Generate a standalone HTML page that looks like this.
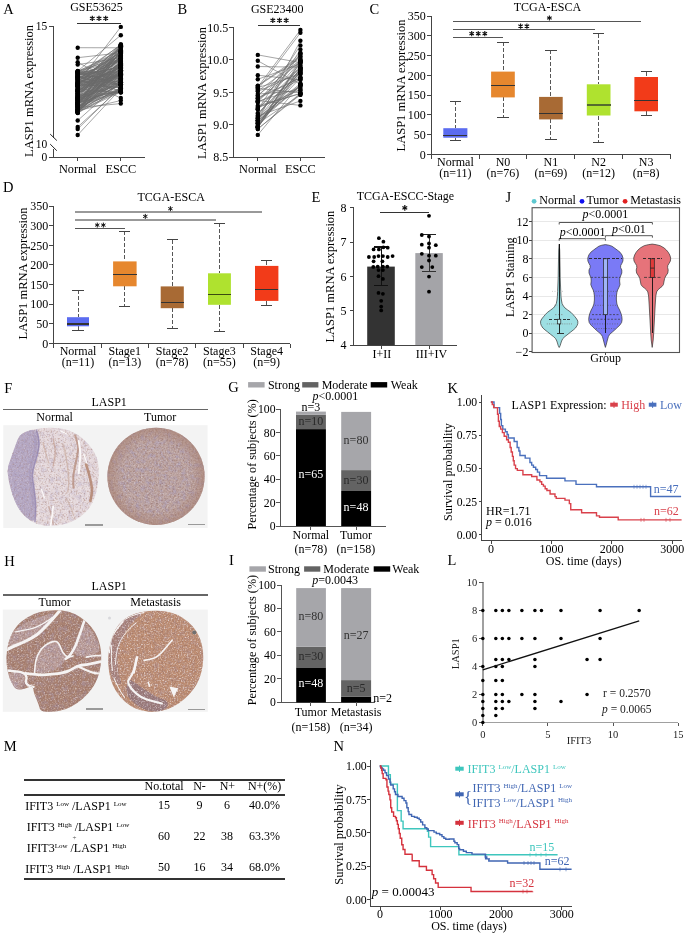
<!DOCTYPE html><html><head><meta charset="utf-8"><style>html,body{margin:0;padding:0;background:#fff;}body{width:685px;height:935px;overflow:hidden;font-family:"Liberation Serif",serif;}svg{display:block;filter:blur(0.4px);}</style></head><body><svg width="685" height="935" viewBox="0 0 685 935" font-family='"Liberation Serif", serif'><defs><filter id="nBrown" x="0" y="0" width="100%" height="100%" color-interpolation-filters="sRGB"><feTurbulence type="fractalNoise" baseFrequency="0.55" numOctaves="2" seed="3"/><feColorMatrix type="matrix" values="0 0 0 0 0.58 0 0 0 0 0.4 0 0 0 0 0.34 2.6 0 0 0 -1.25"/></filter><filter id="nLav" x="0" y="0" width="100%" height="100%" color-interpolation-filters="sRGB"><feTurbulence type="fractalNoise" baseFrequency="0.22" numOctaves="3" seed="8"/><feColorMatrix type="matrix" values="0 0 0 0 0.66 0 0 0 0 0.62 0 0 0 0 0.76 2.4 0 0 0 -1.05"/></filter><filter id="nWhite" x="0" y="0" width="100%" height="100%" color-interpolation-filters="sRGB"><feTurbulence type="fractalNoise" baseFrequency="0.7" numOctaves="2" seed="13"/><feColorMatrix type="matrix" values="0 0 0 0 0.97 0 0 0 0 0.95 0 0 0 0 0.96 2.8 0 0 0 -1.4"/></filter><filter id="nDark" x="0" y="0" width="100%" height="100%" color-interpolation-filters="sRGB"><feTurbulence type="fractalNoise" baseFrequency="0.6" numOctaves="2" seed="21"/><feColorMatrix type="matrix" values="0 0 0 0 0.4 0 0 0 0 0.28 0 0 0 0 0.3 3.0 0 0 0 -1.55"/></filter><filter id="nBig" x="0" y="0" width="100%" height="100%" color-interpolation-filters="sRGB"><feTurbulence type="fractalNoise" baseFrequency="0.05" numOctaves="3" seed="5"/><feColorMatrix type="matrix" values="0 0 0 0 0.7 0 0 0 0 0.64 0 0 0 0 0.72 2.4 0 0 0 -1.1"/></filter><radialGradient id="rimT"><stop offset="0.7" stop-color="#a57c6c" stop-opacity="0"/><stop offset="1" stop-color="#a57c6c" stop-opacity="0.55"/></radialGradient><clipPath id="cFN"><path d="M22.15 433.76Q25.44 431.57 30.91 430.11Q36.39 428.65 42.59 428.14Q48.80 427.63 54.64 427.92Q60.47 428.21 65.58 429.53Q70.69 430.84 75.80 433.76Q80.91 436.68 85.29 441.06Q89.67 445.44 92.59 449.82Q95.51 454.20 96.97 458.58Q98.43 462.96 98.58 468.07Q98.72 473.18 98.21 479.74Q97.70 486.31 96.24 492.15Q94.78 497.99 92.23 503.10Q89.67 508.21 85.29 512.59Q80.91 516.97 75.07 520.04Q69.23 523.10 62.66 524.56Q56.09 526.02 50.26 526.02Q44.42 526.02 39.31 524.56Q34.20 523.10 29.82 520.18Q25.44 517.26 21.79 512.74Q18.14 508.21 15.22 501.64Q12.30 495.07 10.47 487.77Q8.65 480.47 7.92 474.64Q7.19 468.80 9.01 463.69Q10.84 458.58 12.30 454.20Q13.76 449.82 15.22 446.17Q16.68 442.52 17.77 439.23Q18.87 435.95 22.15 433.76Z"/></clipPath><clipPath id="cFNlav"><path d="M22.15 433.76Q25.44 431.57 30.91 430.33Q36.39 429.09 38.21 434.34Q40.04 439.60 39.16 446.90Q38.28 454.20 34.93 463.69Q31.57 473.18 32.88 479.74Q34.20 486.31 35.29 496.53Q36.39 506.75 35.66 514.64Q34.93 522.52 30.18 519.89Q25.44 517.26 21.79 512.74Q18.14 508.21 15.22 501.64Q12.30 495.07 10.47 487.77Q8.65 480.47 7.92 474.64Q7.19 468.80 9.01 463.69Q10.84 458.58 12.30 454.20Q13.76 449.82 15.22 446.17Q16.68 442.52 17.77 439.23Q18.87 435.95 22.15 433.76Z"/></clipPath><clipPath id="cFT"><circle cx="156.0" cy="476.4" r="48.6"/></clipPath><clipPath id="cHT"><path d="M26.82 617.67Q32.78 613.95 40.22 612.09Q47.67 610.23 55.11 610.23Q62.56 610.23 68.52 611.72Q74.47 613.21 80.43 617.30Q86.38 621.39 90.85 626.60Q95.32 631.81 97.92 638.51Q100.53 645.20 101.05 651.90Q101.57 658.60 100.68 665.29Q99.78 671.99 97.55 677.94Q95.32 683.89 91.59 689.10Q87.87 694.31 82.66 698.77Q77.45 703.24 71.49 706.59Q65.54 709.93 58.84 711.05Q52.14 712.17 46.33 711.72Q40.52 711.27 39.78 708.45Q39.03 705.62 37.69 702.20Q36.35 698.77 35.01 695.50Q33.67 692.23 33.23 688.80Q32.78 685.38 29.21 686.94Q25.63 688.51 21.02 689.40Q16.40 690.29 13.80 686.35Q11.19 682.40 9.33 677.20Q7.47 671.99 6.72 664.55Q5.98 657.11 7.09 649.67Q8.21 642.23 10.82 636.27Q13.42 630.32 17.15 625.86Q20.87 621.39 26.82 617.67Z"/></clipPath><clipPath id="cHM"><path d="M128.82 616.56Q134.78 613.21 142.22 611.94Q149.67 610.68 157.11 610.83Q164.56 610.98 170.52 612.46Q176.47 613.95 182.43 617.67Q188.38 621.39 192.85 626.60Q197.32 631.81 199.92 638.51Q202.53 645.20 203.05 651.90Q203.57 658.60 202.68 665.29Q201.78 671.99 199.55 677.94Q197.32 683.89 193.59 689.10Q189.87 694.31 184.66 698.77Q179.45 703.24 173.49 706.59Q167.54 709.93 160.84 711.05Q154.14 712.17 147.44 711.42Q140.74 710.68 135.52 708.45Q130.31 706.21 125.10 701.75Q119.89 697.29 116.17 691.33Q112.44 685.38 110.58 678.68Q108.72 671.99 108.35 664.55Q107.98 657.11 109.09 649.67Q110.21 642.23 112.82 635.53Q115.42 628.83 119.15 624.37Q122.87 619.90 128.82 616.56Z"/></clipPath></defs><text x="3.30" y="14.00" font-size="14.5" text-anchor="start" fill="#000">A</text>
<text x="96.50" y="10.60" font-size="12" text-anchor="middle" fill="#000">GSE53625</text>
<line x1="53.40" y1="26.30" x2="53.40" y2="137.50" stroke="#444" stroke-width="1" stroke-linecap="butt" shape-rendering="crispEdges"/>
<line x1="53.40" y1="149.00" x2="53.40" y2="157.60" stroke="#444" stroke-width="1" stroke-linecap="butt" shape-rendering="crispEdges"/>
<line x1="50.20" y1="134.10" x2="56.80" y2="140.50" stroke="#222" stroke-width="1" stroke-linecap="butt"/>
<line x1="50.20" y1="144.10" x2="56.80" y2="150.70" stroke="#222" stroke-width="1" stroke-linecap="butt"/>
<line x1="48.50" y1="157.10" x2="145.00" y2="157.10" stroke="#444" stroke-width="1" stroke-linecap="butt" shape-rendering="crispEdges"/>
<line x1="49.00" y1="26.30" x2="53.40" y2="26.30" stroke="#444" stroke-width="1" stroke-linecap="butt" shape-rendering="crispEdges"/>
<text x="47.20" y="30.40" font-size="11.5" text-anchor="end" fill="#000">15</text>
<text x="47.20" y="148.40" font-size="11.5" text-anchor="end" fill="#000">10</text>
<text x="47.20" y="161.20" font-size="11.5" text-anchor="end" fill="#000">0</text>
<line x1="77.70" y1="157.10" x2="77.70" y2="161.30" stroke="#444" stroke-width="1" stroke-linecap="butt" shape-rendering="crispEdges"/>
<line x1="120.80" y1="157.10" x2="120.80" y2="161.30" stroke="#444" stroke-width="1" stroke-linecap="butt" shape-rendering="crispEdges"/>
<text x="77.70" y="172.80" font-size="12.3" text-anchor="middle" fill="#000">Normal</text>
<text x="120.80" y="172.80" font-size="12.3" text-anchor="middle" fill="#000">ESCC</text>
<text x="32.80" y="91.00" font-size="12.5" text-anchor="middle" fill="#000" transform="rotate(-90 32.8 91)">LASP1 mRNA expression</text>
<line x1="77.30" y1="23.10" x2="121.00" y2="23.10" stroke="#333" stroke-width="1.1" stroke-linecap="butt" shape-rendering="crispEdges"/>
<path d="M92.30 15.70L92.30 21.10M89.96 17.05L94.64 19.75M89.96 19.75L94.64 17.05M99.00 15.70L99.00 21.10M96.66 17.05L101.34 19.75M96.66 19.75L101.34 17.05M105.70 15.70L105.70 21.10M103.36 17.05L108.04 19.75M103.36 19.75L108.04 17.05" stroke="#111" stroke-width="1.25" fill="none"/>
<path d="M77.7 75.5L120.8 58.9M77.7 47.7L120.8 47.8M77.7 83.3L120.8 26.9M77.7 77.3L120.8 66.0M77.7 83.7L120.8 55.1M77.7 84.3L120.8 45.7M77.7 95.3L120.8 92.0M77.7 73.0L120.8 76.0M77.7 103.3L120.8 51.3M77.7 71.1L120.8 35.2M77.7 77.3L120.8 84.8M77.7 81.5L120.8 58.6M77.7 77.2L120.8 44.5M77.7 91.2L120.8 62.9M77.7 91.1L120.8 56.4M77.7 90.7L120.8 58.4M77.7 100.0L120.8 64.9M77.7 108.8L120.8 63.2M77.7 86.3L120.8 69.6M77.7 85.5L120.8 67.6M77.7 97.3L120.8 74.0M77.7 74.8L120.8 45.1M77.7 81.4L120.8 52.0M77.7 57.7L120.8 52.8M77.7 72.0L120.8 55.7M77.7 79.3L120.8 51.9M77.7 82.7L120.8 65.2M77.7 93.8L120.8 58.4M77.7 85.2L120.8 67.1M77.7 97.2L120.8 56.7M77.7 106.5L120.8 89.9M77.7 72.2L120.8 73.1M77.7 79.6L120.8 52.6M77.7 88.0L120.8 50.1M77.7 86.4L120.8 67.0M77.7 93.0L120.8 62.9M77.7 82.8L120.8 64.4M77.7 75.8L120.8 49.1M77.7 71.4L120.8 71.9M77.7 85.6L120.8 54.0M77.7 73.7L120.8 84.8M77.7 80.1L120.8 60.0M77.7 77.8L120.8 85.4M77.7 83.4L120.8 68.4M77.7 94.0L120.8 58.7M77.7 84.0L120.8 60.5M77.7 102.7L120.8 51.4M77.7 88.7L120.8 74.0M77.7 90.6L120.8 46.2M77.7 109.5L120.8 51.0M77.7 96.7L120.8 70.2M77.7 72.5L120.8 58.7M77.7 85.2L120.8 47.7M77.7 86.2L120.8 78.0M77.7 74.7L120.8 67.6M77.7 98.2L120.8 74.3M77.7 75.5L120.8 67.5M77.7 77.7L120.8 55.5M77.7 73.4L120.8 82.4M77.7 73.3L120.8 79.4M77.7 71.8L120.8 85.1M77.7 104.5L120.8 50.4M77.7 74.3L120.8 61.0M77.7 90.1L120.8 53.9M77.7 78.5L120.8 57.8M77.7 91.2L120.8 65.4M77.7 100.2L120.8 56.0M77.7 79.8L120.8 90.9M77.7 71.1L120.8 53.3M77.7 71.6L120.8 50.2M77.7 83.5L120.8 46.5M77.7 77.1L120.8 75.7M77.7 82.4L120.8 70.9M77.7 109.7L120.8 80.6M77.7 91.5L120.8 59.1M77.7 96.9L120.8 49.7M77.7 111.6L120.8 65.5M77.7 105.7L120.8 84.6M77.7 88.0L120.8 67.7M77.7 103.8L120.8 64.2M77.7 62.2L120.8 85.8M77.7 80.1L120.8 88.3M77.7 103.6L120.8 82.4M77.7 85.3L120.8 44.5M77.7 78.0L120.8 73.4M77.7 76.8L120.8 76.7M77.7 102.2L120.8 65.9M77.7 110.7L120.8 100.5M77.7 71.5L120.8 57.1M77.7 81.0L120.8 58.9M77.7 105.4L120.8 67.9M77.7 99.5L120.8 61.5M77.7 83.2L120.8 61.5M77.7 112.3L120.8 46.3M77.7 101.6L120.8 75.1M77.7 102.5L120.8 62.7M77.7 103.2L120.8 88.7M77.7 102.1L120.8 90.0M77.7 99.2L120.8 45.2M77.7 109.5L120.8 88.8M77.7 99.9L120.8 91.7M77.7 112.9L120.8 82.3M77.7 86.8L120.8 75.8M77.7 90.4L120.8 70.2M77.7 104.0L120.8 59.9M77.7 96.3L120.8 84.2M77.7 64.6L120.8 58.0M77.7 78.6L120.8 98.0M77.7 110.7L120.8 87.7M77.7 90.0L120.8 74.3M77.7 102.0L120.8 74.7M77.7 91.4L120.8 91.0M77.7 104.5L120.8 70.4M77.7 105.3L120.8 45.8M77.7 110.6L120.8 55.5M77.7 113.0L120.8 89.0M77.7 112.0L120.8 74.8M77.7 106.8L120.8 67.4M77.7 93.6L120.8 66.6M77.7 104.5L120.8 78.8M77.7 73.0L120.8 64.8M77.7 111.3L120.8 75.4M77.7 112.5L120.8 68.6M77.7 104.1L120.8 62.0M77.7 102.9L120.8 92.2M77.7 110.5L120.8 62.6M77.7 90.0L120.8 77.9M77.7 104.1L120.8 72.9M77.7 107.4L120.8 71.0M77.7 107.1L120.8 80.6M77.7 97.5L120.8 81.4M77.7 100.0L120.8 73.4M77.7 83.2L120.8 76.8M77.7 103.5L120.8 47.1M77.7 84.1L120.8 87.8M77.7 95.4L120.8 79.9M77.7 100.6L120.8 71.1M77.7 110.9L120.8 90.9M77.7 98.3L120.8 85.1M77.7 108.5L120.8 84.3M77.7 95.9L120.8 51.4M77.7 86.2L120.8 83.9M77.7 99.5L120.8 82.4M77.7 89.3L120.8 92.5M77.7 91.7L120.8 72.7M77.7 92.0L120.8 79.4M77.7 110.6L120.8 60.8M77.7 110.0L120.8 63.5M77.7 85.3L120.8 57.5M77.7 98.9L120.8 83.9M77.7 111.4L120.8 73.2M77.7 76.3L120.8 91.1M77.7 110.6L120.8 64.7M77.7 109.6L120.8 82.9M77.7 111.1L120.8 78.2M77.7 112.4L120.8 70.3M77.7 95.1L120.8 62.4M77.7 85.9L120.8 75.2M77.7 84.3L120.8 74.2M77.7 76.5L120.8 82.3M77.7 93.9L120.8 46.2M77.7 104.4L120.8 68.6M77.7 107.6L120.8 103.6M77.7 109.8L120.8 72.4M77.7 100.6L120.8 52.3M77.7 127.0L120.8 87.6M77.7 72.4L120.8 75.0M77.7 135.0L120.8 88.7M77.7 106.2L120.8 84.7M77.7 98.1L120.8 71.8M77.7 101.7L120.8 72.7M77.7 112.0L120.8 92.1M77.7 129.0L120.8 86.7M77.7 102.4L120.8 77.8M77.7 120.5L120.8 82.1M77.7 93.4L120.8 73.8M77.7 107.6L120.8 79.5M77.7 98.3L120.8 91.4M77.7 106.5L120.8 91.8" stroke="#6a6a6a" stroke-width="0.6" fill="none"/>
<circle cx="77.70" cy="75.54" r="2.2" fill="#000"/>
<circle cx="120.80" cy="58.90" r="2.2" fill="#000"/>
<circle cx="77.70" cy="47.70" r="2.2" fill="#000"/>
<circle cx="120.80" cy="47.82" r="2.2" fill="#000"/>
<circle cx="77.70" cy="83.34" r="2.2" fill="#000"/>
<circle cx="120.80" cy="26.90" r="2.2" fill="#000"/>
<circle cx="77.70" cy="77.27" r="2.2" fill="#000"/>
<circle cx="120.80" cy="66.01" r="2.2" fill="#000"/>
<circle cx="77.70" cy="83.66" r="2.2" fill="#000"/>
<circle cx="120.80" cy="55.12" r="2.2" fill="#000"/>
<circle cx="77.70" cy="84.26" r="2.2" fill="#000"/>
<circle cx="120.80" cy="45.74" r="2.2" fill="#000"/>
<circle cx="77.70" cy="95.30" r="2.2" fill="#000"/>
<circle cx="120.80" cy="91.97" r="2.2" fill="#000"/>
<circle cx="77.70" cy="73.04" r="2.2" fill="#000"/>
<circle cx="120.80" cy="76.03" r="2.2" fill="#000"/>
<circle cx="77.70" cy="103.33" r="2.2" fill="#000"/>
<circle cx="120.80" cy="51.32" r="2.2" fill="#000"/>
<circle cx="77.70" cy="71.14" r="2.2" fill="#000"/>
<circle cx="120.80" cy="35.20" r="2.2" fill="#000"/>
<circle cx="77.70" cy="77.25" r="2.2" fill="#000"/>
<circle cx="120.80" cy="84.82" r="2.2" fill="#000"/>
<circle cx="77.70" cy="81.53" r="2.2" fill="#000"/>
<circle cx="120.80" cy="58.64" r="2.2" fill="#000"/>
<circle cx="77.70" cy="77.15" r="2.2" fill="#000"/>
<circle cx="120.80" cy="44.55" r="2.2" fill="#000"/>
<circle cx="77.70" cy="91.21" r="2.2" fill="#000"/>
<circle cx="120.80" cy="62.94" r="2.2" fill="#000"/>
<circle cx="77.70" cy="91.12" r="2.2" fill="#000"/>
<circle cx="120.80" cy="56.41" r="2.2" fill="#000"/>
<circle cx="77.70" cy="90.70" r="2.2" fill="#000"/>
<circle cx="120.80" cy="58.39" r="2.2" fill="#000"/>
<circle cx="77.70" cy="100.01" r="2.2" fill="#000"/>
<circle cx="120.80" cy="64.91" r="2.2" fill="#000"/>
<circle cx="77.70" cy="108.84" r="2.2" fill="#000"/>
<circle cx="120.80" cy="63.20" r="2.2" fill="#000"/>
<circle cx="77.70" cy="86.26" r="2.2" fill="#000"/>
<circle cx="120.80" cy="69.63" r="2.2" fill="#000"/>
<circle cx="77.70" cy="85.46" r="2.2" fill="#000"/>
<circle cx="120.80" cy="67.63" r="2.2" fill="#000"/>
<circle cx="77.70" cy="97.33" r="2.2" fill="#000"/>
<circle cx="120.80" cy="74.02" r="2.2" fill="#000"/>
<circle cx="77.70" cy="74.83" r="2.2" fill="#000"/>
<circle cx="120.80" cy="45.14" r="2.2" fill="#000"/>
<circle cx="77.70" cy="81.36" r="2.2" fill="#000"/>
<circle cx="120.80" cy="52.01" r="2.2" fill="#000"/>
<circle cx="77.70" cy="57.70" r="2.2" fill="#000"/>
<circle cx="120.80" cy="52.83" r="2.2" fill="#000"/>
<circle cx="77.70" cy="71.96" r="2.2" fill="#000"/>
<circle cx="120.80" cy="55.66" r="2.2" fill="#000"/>
<circle cx="77.70" cy="79.25" r="2.2" fill="#000"/>
<circle cx="120.80" cy="51.95" r="2.2" fill="#000"/>
<circle cx="77.70" cy="82.74" r="2.2" fill="#000"/>
<circle cx="120.80" cy="65.24" r="2.2" fill="#000"/>
<circle cx="77.70" cy="93.84" r="2.2" fill="#000"/>
<circle cx="120.80" cy="58.39" r="2.2" fill="#000"/>
<circle cx="77.70" cy="85.22" r="2.2" fill="#000"/>
<circle cx="120.80" cy="67.07" r="2.2" fill="#000"/>
<circle cx="77.70" cy="97.16" r="2.2" fill="#000"/>
<circle cx="120.80" cy="56.74" r="2.2" fill="#000"/>
<circle cx="77.70" cy="106.48" r="2.2" fill="#000"/>
<circle cx="120.80" cy="89.86" r="2.2" fill="#000"/>
<circle cx="77.70" cy="72.22" r="2.2" fill="#000"/>
<circle cx="120.80" cy="73.12" r="2.2" fill="#000"/>
<circle cx="77.70" cy="79.60" r="2.2" fill="#000"/>
<circle cx="120.80" cy="52.56" r="2.2" fill="#000"/>
<circle cx="77.70" cy="88.05" r="2.2" fill="#000"/>
<circle cx="120.80" cy="50.08" r="2.2" fill="#000"/>
<circle cx="77.70" cy="86.38" r="2.2" fill="#000"/>
<circle cx="120.80" cy="67.02" r="2.2" fill="#000"/>
<circle cx="77.70" cy="93.04" r="2.2" fill="#000"/>
<circle cx="120.80" cy="62.92" r="2.2" fill="#000"/>
<circle cx="77.70" cy="82.80" r="2.2" fill="#000"/>
<circle cx="120.80" cy="64.39" r="2.2" fill="#000"/>
<circle cx="77.70" cy="75.75" r="2.2" fill="#000"/>
<circle cx="120.80" cy="49.10" r="2.2" fill="#000"/>
<circle cx="77.70" cy="71.38" r="2.2" fill="#000"/>
<circle cx="120.80" cy="71.94" r="2.2" fill="#000"/>
<circle cx="77.70" cy="85.61" r="2.2" fill="#000"/>
<circle cx="120.80" cy="54.03" r="2.2" fill="#000"/>
<circle cx="77.70" cy="73.74" r="2.2" fill="#000"/>
<circle cx="120.80" cy="84.76" r="2.2" fill="#000"/>
<circle cx="77.70" cy="80.05" r="2.2" fill="#000"/>
<circle cx="120.80" cy="59.98" r="2.2" fill="#000"/>
<circle cx="77.70" cy="77.78" r="2.2" fill="#000"/>
<circle cx="120.80" cy="85.38" r="2.2" fill="#000"/>
<circle cx="77.70" cy="83.38" r="2.2" fill="#000"/>
<circle cx="120.80" cy="68.35" r="2.2" fill="#000"/>
<circle cx="77.70" cy="93.97" r="2.2" fill="#000"/>
<circle cx="120.80" cy="58.72" r="2.2" fill="#000"/>
<circle cx="77.70" cy="84.02" r="2.2" fill="#000"/>
<circle cx="120.80" cy="60.54" r="2.2" fill="#000"/>
<circle cx="77.70" cy="102.74" r="2.2" fill="#000"/>
<circle cx="120.80" cy="51.42" r="2.2" fill="#000"/>
<circle cx="77.70" cy="88.71" r="2.2" fill="#000"/>
<circle cx="120.80" cy="73.99" r="2.2" fill="#000"/>
<circle cx="77.70" cy="90.56" r="2.2" fill="#000"/>
<circle cx="120.80" cy="46.25" r="2.2" fill="#000"/>
<circle cx="77.70" cy="109.49" r="2.2" fill="#000"/>
<circle cx="120.80" cy="50.98" r="2.2" fill="#000"/>
<circle cx="77.70" cy="96.65" r="2.2" fill="#000"/>
<circle cx="120.80" cy="70.20" r="2.2" fill="#000"/>
<circle cx="77.70" cy="72.54" r="2.2" fill="#000"/>
<circle cx="120.80" cy="58.72" r="2.2" fill="#000"/>
<circle cx="77.70" cy="85.19" r="2.2" fill="#000"/>
<circle cx="120.80" cy="47.70" r="2.2" fill="#000"/>
<circle cx="77.70" cy="86.18" r="2.2" fill="#000"/>
<circle cx="120.80" cy="78.03" r="2.2" fill="#000"/>
<circle cx="77.70" cy="74.74" r="2.2" fill="#000"/>
<circle cx="120.80" cy="67.65" r="2.2" fill="#000"/>
<circle cx="77.70" cy="98.19" r="2.2" fill="#000"/>
<circle cx="120.80" cy="74.34" r="2.2" fill="#000"/>
<circle cx="77.70" cy="75.48" r="2.2" fill="#000"/>
<circle cx="120.80" cy="67.52" r="2.2" fill="#000"/>
<circle cx="77.70" cy="77.70" r="2.2" fill="#000"/>
<circle cx="120.80" cy="55.47" r="2.2" fill="#000"/>
<circle cx="77.70" cy="73.39" r="2.2" fill="#000"/>
<circle cx="120.80" cy="82.37" r="2.2" fill="#000"/>
<circle cx="77.70" cy="73.34" r="2.2" fill="#000"/>
<circle cx="120.80" cy="79.44" r="2.2" fill="#000"/>
<circle cx="77.70" cy="71.76" r="2.2" fill="#000"/>
<circle cx="120.80" cy="85.08" r="2.2" fill="#000"/>
<circle cx="77.70" cy="104.50" r="2.2" fill="#000"/>
<circle cx="120.80" cy="50.41" r="2.2" fill="#000"/>
<circle cx="77.70" cy="74.28" r="2.2" fill="#000"/>
<circle cx="120.80" cy="60.96" r="2.2" fill="#000"/>
<circle cx="77.70" cy="90.14" r="2.2" fill="#000"/>
<circle cx="120.80" cy="53.88" r="2.2" fill="#000"/>
<circle cx="77.70" cy="78.45" r="2.2" fill="#000"/>
<circle cx="120.80" cy="57.78" r="2.2" fill="#000"/>
<circle cx="77.70" cy="91.19" r="2.2" fill="#000"/>
<circle cx="120.80" cy="65.44" r="2.2" fill="#000"/>
<circle cx="77.70" cy="100.17" r="2.2" fill="#000"/>
<circle cx="120.80" cy="56.04" r="2.2" fill="#000"/>
<circle cx="77.70" cy="79.80" r="2.2" fill="#000"/>
<circle cx="120.80" cy="90.92" r="2.2" fill="#000"/>
<circle cx="77.70" cy="71.07" r="2.2" fill="#000"/>
<circle cx="120.80" cy="53.31" r="2.2" fill="#000"/>
<circle cx="77.70" cy="71.55" r="2.2" fill="#000"/>
<circle cx="120.80" cy="50.23" r="2.2" fill="#000"/>
<circle cx="77.70" cy="83.55" r="2.2" fill="#000"/>
<circle cx="120.80" cy="46.53" r="2.2" fill="#000"/>
<circle cx="77.70" cy="77.12" r="2.2" fill="#000"/>
<circle cx="120.80" cy="75.65" r="2.2" fill="#000"/>
<circle cx="77.70" cy="82.44" r="2.2" fill="#000"/>
<circle cx="120.80" cy="70.94" r="2.2" fill="#000"/>
<circle cx="77.70" cy="109.74" r="2.2" fill="#000"/>
<circle cx="120.80" cy="80.63" r="2.2" fill="#000"/>
<circle cx="77.70" cy="91.50" r="2.2" fill="#000"/>
<circle cx="120.80" cy="59.08" r="2.2" fill="#000"/>
<circle cx="77.70" cy="96.93" r="2.2" fill="#000"/>
<circle cx="120.80" cy="49.73" r="2.2" fill="#000"/>
<circle cx="77.70" cy="111.60" r="2.2" fill="#000"/>
<circle cx="120.80" cy="65.49" r="2.2" fill="#000"/>
<circle cx="77.70" cy="105.70" r="2.2" fill="#000"/>
<circle cx="120.80" cy="84.60" r="2.2" fill="#000"/>
<circle cx="77.70" cy="87.96" r="2.2" fill="#000"/>
<circle cx="120.80" cy="67.70" r="2.2" fill="#000"/>
<circle cx="77.70" cy="103.84" r="2.2" fill="#000"/>
<circle cx="120.80" cy="64.16" r="2.2" fill="#000"/>
<circle cx="77.70" cy="62.20" r="2.2" fill="#000"/>
<circle cx="120.80" cy="85.82" r="2.2" fill="#000"/>
<circle cx="77.70" cy="80.10" r="2.2" fill="#000"/>
<circle cx="120.80" cy="88.30" r="2.2" fill="#000"/>
<circle cx="77.70" cy="103.58" r="2.2" fill="#000"/>
<circle cx="120.80" cy="82.41" r="2.2" fill="#000"/>
<circle cx="77.70" cy="85.31" r="2.2" fill="#000"/>
<circle cx="120.80" cy="44.53" r="2.2" fill="#000"/>
<circle cx="77.70" cy="77.97" r="2.2" fill="#000"/>
<circle cx="120.80" cy="73.40" r="2.2" fill="#000"/>
<circle cx="77.70" cy="76.83" r="2.2" fill="#000"/>
<circle cx="120.80" cy="76.68" r="2.2" fill="#000"/>
<circle cx="77.70" cy="102.16" r="2.2" fill="#000"/>
<circle cx="120.80" cy="65.89" r="2.2" fill="#000"/>
<circle cx="77.70" cy="110.72" r="2.2" fill="#000"/>
<circle cx="120.80" cy="100.50" r="2.2" fill="#000"/>
<circle cx="77.70" cy="71.49" r="2.2" fill="#000"/>
<circle cx="120.80" cy="57.10" r="2.2" fill="#000"/>
<circle cx="77.70" cy="80.97" r="2.2" fill="#000"/>
<circle cx="120.80" cy="58.88" r="2.2" fill="#000"/>
<circle cx="77.70" cy="105.38" r="2.2" fill="#000"/>
<circle cx="120.80" cy="67.87" r="2.2" fill="#000"/>
<circle cx="77.70" cy="99.47" r="2.2" fill="#000"/>
<circle cx="120.80" cy="61.53" r="2.2" fill="#000"/>
<circle cx="77.70" cy="83.22" r="2.2" fill="#000"/>
<circle cx="120.80" cy="61.48" r="2.2" fill="#000"/>
<circle cx="77.70" cy="112.26" r="2.2" fill="#000"/>
<circle cx="120.80" cy="46.27" r="2.2" fill="#000"/>
<circle cx="77.70" cy="101.64" r="2.2" fill="#000"/>
<circle cx="120.80" cy="75.10" r="2.2" fill="#000"/>
<circle cx="77.70" cy="102.49" r="2.2" fill="#000"/>
<circle cx="120.80" cy="62.73" r="2.2" fill="#000"/>
<circle cx="77.70" cy="103.16" r="2.2" fill="#000"/>
<circle cx="120.80" cy="88.67" r="2.2" fill="#000"/>
<circle cx="77.70" cy="102.08" r="2.2" fill="#000"/>
<circle cx="120.80" cy="89.96" r="2.2" fill="#000"/>
<circle cx="77.70" cy="99.21" r="2.2" fill="#000"/>
<circle cx="120.80" cy="45.21" r="2.2" fill="#000"/>
<circle cx="77.70" cy="109.47" r="2.2" fill="#000"/>
<circle cx="120.80" cy="88.82" r="2.2" fill="#000"/>
<circle cx="77.70" cy="99.95" r="2.2" fill="#000"/>
<circle cx="120.80" cy="91.66" r="2.2" fill="#000"/>
<circle cx="77.70" cy="112.86" r="2.2" fill="#000"/>
<circle cx="120.80" cy="82.35" r="2.2" fill="#000"/>
<circle cx="77.70" cy="86.83" r="2.2" fill="#000"/>
<circle cx="120.80" cy="75.78" r="2.2" fill="#000"/>
<circle cx="77.70" cy="90.44" r="2.2" fill="#000"/>
<circle cx="120.80" cy="70.17" r="2.2" fill="#000"/>
<circle cx="77.70" cy="104.01" r="2.2" fill="#000"/>
<circle cx="120.80" cy="59.89" r="2.2" fill="#000"/>
<circle cx="77.70" cy="96.33" r="2.2" fill="#000"/>
<circle cx="120.80" cy="84.20" r="2.2" fill="#000"/>
<circle cx="77.70" cy="64.60" r="2.2" fill="#000"/>
<circle cx="120.80" cy="58.01" r="2.2" fill="#000"/>
<circle cx="77.70" cy="78.60" r="2.2" fill="#000"/>
<circle cx="120.80" cy="98.00" r="2.2" fill="#000"/>
<circle cx="77.70" cy="110.71" r="2.2" fill="#000"/>
<circle cx="120.80" cy="87.73" r="2.2" fill="#000"/>
<circle cx="77.70" cy="90.03" r="2.2" fill="#000"/>
<circle cx="120.80" cy="74.26" r="2.2" fill="#000"/>
<circle cx="77.70" cy="101.99" r="2.2" fill="#000"/>
<circle cx="120.80" cy="74.65" r="2.2" fill="#000"/>
<circle cx="77.70" cy="91.40" r="2.2" fill="#000"/>
<circle cx="120.80" cy="90.98" r="2.2" fill="#000"/>
<circle cx="77.70" cy="104.48" r="2.2" fill="#000"/>
<circle cx="120.80" cy="70.37" r="2.2" fill="#000"/>
<circle cx="77.70" cy="105.30" r="2.2" fill="#000"/>
<circle cx="120.80" cy="45.84" r="2.2" fill="#000"/>
<circle cx="77.70" cy="110.57" r="2.2" fill="#000"/>
<circle cx="120.80" cy="55.48" r="2.2" fill="#000"/>
<circle cx="77.70" cy="112.97" r="2.2" fill="#000"/>
<circle cx="120.80" cy="88.95" r="2.2" fill="#000"/>
<circle cx="77.70" cy="111.95" r="2.2" fill="#000"/>
<circle cx="120.80" cy="74.75" r="2.2" fill="#000"/>
<circle cx="77.70" cy="106.79" r="2.2" fill="#000"/>
<circle cx="120.80" cy="67.37" r="2.2" fill="#000"/>
<circle cx="77.70" cy="93.65" r="2.2" fill="#000"/>
<circle cx="120.80" cy="66.60" r="2.2" fill="#000"/>
<circle cx="77.70" cy="104.48" r="2.2" fill="#000"/>
<circle cx="120.80" cy="78.85" r="2.2" fill="#000"/>
<circle cx="77.70" cy="72.96" r="2.2" fill="#000"/>
<circle cx="120.80" cy="64.83" r="2.2" fill="#000"/>
<circle cx="77.70" cy="111.31" r="2.2" fill="#000"/>
<circle cx="120.80" cy="75.39" r="2.2" fill="#000"/>
<circle cx="77.70" cy="112.51" r="2.2" fill="#000"/>
<circle cx="120.80" cy="68.57" r="2.2" fill="#000"/>
<circle cx="77.70" cy="104.09" r="2.2" fill="#000"/>
<circle cx="120.80" cy="62.01" r="2.2" fill="#000"/>
<circle cx="77.70" cy="102.90" r="2.2" fill="#000"/>
<circle cx="120.80" cy="92.24" r="2.2" fill="#000"/>
<circle cx="77.70" cy="110.52" r="2.2" fill="#000"/>
<circle cx="120.80" cy="62.63" r="2.2" fill="#000"/>
<circle cx="77.70" cy="90.05" r="2.2" fill="#000"/>
<circle cx="120.80" cy="77.88" r="2.2" fill="#000"/>
<circle cx="77.70" cy="104.10" r="2.2" fill="#000"/>
<circle cx="120.80" cy="72.91" r="2.2" fill="#000"/>
<circle cx="77.70" cy="107.43" r="2.2" fill="#000"/>
<circle cx="120.80" cy="70.96" r="2.2" fill="#000"/>
<circle cx="77.70" cy="107.11" r="2.2" fill="#000"/>
<circle cx="120.80" cy="80.56" r="2.2" fill="#000"/>
<circle cx="77.70" cy="97.48" r="2.2" fill="#000"/>
<circle cx="120.80" cy="81.38" r="2.2" fill="#000"/>
<circle cx="77.70" cy="100.02" r="2.2" fill="#000"/>
<circle cx="120.80" cy="73.40" r="2.2" fill="#000"/>
<circle cx="77.70" cy="83.15" r="2.2" fill="#000"/>
<circle cx="120.80" cy="76.78" r="2.2" fill="#000"/>
<circle cx="77.70" cy="103.55" r="2.2" fill="#000"/>
<circle cx="120.80" cy="47.13" r="2.2" fill="#000"/>
<circle cx="77.70" cy="84.12" r="2.2" fill="#000"/>
<circle cx="120.80" cy="87.83" r="2.2" fill="#000"/>
<circle cx="77.70" cy="95.39" r="2.2" fill="#000"/>
<circle cx="120.80" cy="79.92" r="2.2" fill="#000"/>
<circle cx="77.70" cy="100.59" r="2.2" fill="#000"/>
<circle cx="120.80" cy="71.13" r="2.2" fill="#000"/>
<circle cx="77.70" cy="110.89" r="2.2" fill="#000"/>
<circle cx="120.80" cy="90.89" r="2.2" fill="#000"/>
<circle cx="77.70" cy="98.26" r="2.2" fill="#000"/>
<circle cx="120.80" cy="85.06" r="2.2" fill="#000"/>
<circle cx="77.70" cy="108.54" r="2.2" fill="#000"/>
<circle cx="120.80" cy="84.25" r="2.2" fill="#000"/>
<circle cx="77.70" cy="95.95" r="2.2" fill="#000"/>
<circle cx="120.80" cy="51.39" r="2.2" fill="#000"/>
<circle cx="77.70" cy="86.17" r="2.2" fill="#000"/>
<circle cx="120.80" cy="83.93" r="2.2" fill="#000"/>
<circle cx="77.70" cy="99.47" r="2.2" fill="#000"/>
<circle cx="120.80" cy="82.42" r="2.2" fill="#000"/>
<circle cx="77.70" cy="89.25" r="2.2" fill="#000"/>
<circle cx="120.80" cy="92.46" r="2.2" fill="#000"/>
<circle cx="77.70" cy="91.73" r="2.2" fill="#000"/>
<circle cx="120.80" cy="72.67" r="2.2" fill="#000"/>
<circle cx="77.70" cy="91.97" r="2.2" fill="#000"/>
<circle cx="120.80" cy="79.40" r="2.2" fill="#000"/>
<circle cx="77.70" cy="110.62" r="2.2" fill="#000"/>
<circle cx="120.80" cy="60.80" r="2.2" fill="#000"/>
<circle cx="77.70" cy="110.05" r="2.2" fill="#000"/>
<circle cx="120.80" cy="63.51" r="2.2" fill="#000"/>
<circle cx="77.70" cy="85.28" r="2.2" fill="#000"/>
<circle cx="120.80" cy="57.48" r="2.2" fill="#000"/>
<circle cx="77.70" cy="98.89" r="2.2" fill="#000"/>
<circle cx="120.80" cy="83.87" r="2.2" fill="#000"/>
<circle cx="77.70" cy="111.38" r="2.2" fill="#000"/>
<circle cx="120.80" cy="73.15" r="2.2" fill="#000"/>
<circle cx="77.70" cy="76.32" r="2.2" fill="#000"/>
<circle cx="120.80" cy="91.12" r="2.2" fill="#000"/>
<circle cx="77.70" cy="110.58" r="2.2" fill="#000"/>
<circle cx="120.80" cy="64.65" r="2.2" fill="#000"/>
<circle cx="77.70" cy="109.56" r="2.2" fill="#000"/>
<circle cx="120.80" cy="82.90" r="2.2" fill="#000"/>
<circle cx="77.70" cy="111.12" r="2.2" fill="#000"/>
<circle cx="120.80" cy="78.19" r="2.2" fill="#000"/>
<circle cx="77.70" cy="112.44" r="2.2" fill="#000"/>
<circle cx="120.80" cy="70.33" r="2.2" fill="#000"/>
<circle cx="77.70" cy="95.11" r="2.2" fill="#000"/>
<circle cx="120.80" cy="62.42" r="2.2" fill="#000"/>
<circle cx="77.70" cy="85.90" r="2.2" fill="#000"/>
<circle cx="120.80" cy="75.16" r="2.2" fill="#000"/>
<circle cx="77.70" cy="84.31" r="2.2" fill="#000"/>
<circle cx="120.80" cy="74.17" r="2.2" fill="#000"/>
<circle cx="77.70" cy="76.48" r="2.2" fill="#000"/>
<circle cx="120.80" cy="82.25" r="2.2" fill="#000"/>
<circle cx="77.70" cy="93.90" r="2.2" fill="#000"/>
<circle cx="120.80" cy="46.23" r="2.2" fill="#000"/>
<circle cx="77.70" cy="104.40" r="2.2" fill="#000"/>
<circle cx="120.80" cy="68.64" r="2.2" fill="#000"/>
<circle cx="77.70" cy="107.64" r="2.2" fill="#000"/>
<circle cx="120.80" cy="103.60" r="2.2" fill="#000"/>
<circle cx="77.70" cy="109.82" r="2.2" fill="#000"/>
<circle cx="120.80" cy="72.42" r="2.2" fill="#000"/>
<circle cx="77.70" cy="100.60" r="2.2" fill="#000"/>
<circle cx="120.80" cy="52.26" r="2.2" fill="#000"/>
<circle cx="77.70" cy="127.00" r="2.2" fill="#000"/>
<circle cx="120.80" cy="87.57" r="2.2" fill="#000"/>
<circle cx="77.70" cy="72.37" r="2.2" fill="#000"/>
<circle cx="120.80" cy="75.03" r="2.2" fill="#000"/>
<circle cx="77.70" cy="135.00" r="2.2" fill="#000"/>
<circle cx="120.80" cy="88.72" r="2.2" fill="#000"/>
<circle cx="77.70" cy="106.21" r="2.2" fill="#000"/>
<circle cx="120.80" cy="84.67" r="2.2" fill="#000"/>
<circle cx="77.70" cy="98.05" r="2.2" fill="#000"/>
<circle cx="120.80" cy="71.85" r="2.2" fill="#000"/>
<circle cx="77.70" cy="101.73" r="2.2" fill="#000"/>
<circle cx="120.80" cy="72.67" r="2.2" fill="#000"/>
<circle cx="77.70" cy="111.99" r="2.2" fill="#000"/>
<circle cx="120.80" cy="92.08" r="2.2" fill="#000"/>
<circle cx="77.70" cy="129.00" r="2.2" fill="#000"/>
<circle cx="120.80" cy="86.69" r="2.2" fill="#000"/>
<circle cx="77.70" cy="102.43" r="2.2" fill="#000"/>
<circle cx="120.80" cy="77.77" r="2.2" fill="#000"/>
<circle cx="77.70" cy="120.50" r="2.2" fill="#000"/>
<circle cx="120.80" cy="82.07" r="2.2" fill="#000"/>
<circle cx="77.70" cy="93.41" r="2.2" fill="#000"/>
<circle cx="120.80" cy="73.79" r="2.2" fill="#000"/>
<circle cx="77.70" cy="107.60" r="2.2" fill="#000"/>
<circle cx="120.80" cy="79.55" r="2.2" fill="#000"/>
<circle cx="77.70" cy="98.29" r="2.2" fill="#000"/>
<circle cx="120.80" cy="91.45" r="2.2" fill="#000"/>
<circle cx="77.70" cy="106.48" r="2.2" fill="#000"/>
<circle cx="120.80" cy="91.84" r="2.2" fill="#000"/>
<text x="177.50" y="13.60" font-size="14.5" text-anchor="start" fill="#000">B</text>
<text x="277.30" y="13.00" font-size="12" text-anchor="middle" fill="#000">GSE23400</text>
<line x1="233.70" y1="27.60" x2="233.70" y2="157.60" stroke="#444" stroke-width="1" stroke-linecap="butt" shape-rendering="crispEdges"/>
<line x1="233.70" y1="157.10" x2="325.00" y2="157.10" stroke="#444" stroke-width="1" stroke-linecap="butt" shape-rendering="crispEdges"/>
<line x1="229.40" y1="27.60" x2="233.70" y2="27.60" stroke="#444" stroke-width="1" stroke-linecap="butt" shape-rendering="crispEdges"/>
<text x="228.20" y="31.80" font-size="12" text-anchor="end" fill="#000">10.5</text>
<line x1="229.40" y1="59.97" x2="233.70" y2="59.97" stroke="#444" stroke-width="1" stroke-linecap="butt" shape-rendering="crispEdges"/>
<text x="228.20" y="64.17" font-size="12" text-anchor="end" fill="#000">10.0</text>
<line x1="229.40" y1="92.35" x2="233.70" y2="92.35" stroke="#444" stroke-width="1" stroke-linecap="butt" shape-rendering="crispEdges"/>
<text x="228.20" y="96.55" font-size="12" text-anchor="end" fill="#000">9.5</text>
<line x1="229.40" y1="124.72" x2="233.70" y2="124.72" stroke="#444" stroke-width="1" stroke-linecap="butt" shape-rendering="crispEdges"/>
<text x="228.20" y="128.92" font-size="12" text-anchor="end" fill="#000">9.0</text>
<line x1="229.40" y1="157.10" x2="233.70" y2="157.10" stroke="#444" stroke-width="1" stroke-linecap="butt" shape-rendering="crispEdges"/>
<text x="228.20" y="161.30" font-size="12" text-anchor="end" fill="#000">8.5</text>
<line x1="257.80" y1="157.10" x2="257.80" y2="161.30" stroke="#444" stroke-width="1" stroke-linecap="butt" shape-rendering="crispEdges"/>
<line x1="300.40" y1="157.10" x2="300.40" y2="161.30" stroke="#444" stroke-width="1" stroke-linecap="butt" shape-rendering="crispEdges"/>
<text x="257.80" y="172.80" font-size="12.3" text-anchor="middle" fill="#000">Normal</text>
<text x="300.40" y="172.80" font-size="12.3" text-anchor="middle" fill="#000">ESCC</text>
<text x="205.80" y="93.00" font-size="12.5" text-anchor="middle" fill="#000" transform="rotate(-90 205.8 93)">LASP1 mRNA expression</text>
<line x1="258.00" y1="25.20" x2="300.40" y2="25.20" stroke="#333" stroke-width="1.1" stroke-linecap="butt" shape-rendering="crispEdges"/>
<path d="M272.80 17.70L272.80 23.10M270.46 19.05L275.14 21.75M270.46 21.75L275.14 19.05M279.50 17.70L279.50 23.10M277.16 19.05L281.84 21.75M277.16 21.75L281.84 19.05M286.20 17.70L286.20 23.10M283.86 19.05L288.54 21.75M283.86 21.75L288.54 19.05" stroke="#111" stroke-width="1.25" fill="none"/>
<path d="M257.8 66.5L300.4 67.2M257.8 87.1L300.4 30.0M257.8 75.2L300.4 79.9M257.8 101.3L300.4 54.8M257.8 95.4L300.4 61.5M257.8 54.9L300.4 62.6M257.8 87.6L300.4 74.4M257.8 108.7L300.4 68.0M257.8 101.8L300.4 60.2M257.8 91.5L300.4 72.8M257.8 89.7L300.4 32.8M257.8 85.6L300.4 56.3M257.8 79.3L300.4 63.8M257.8 109.5L300.4 45.4M257.8 86.0L300.4 58.0M257.8 88.4L300.4 92.8M257.8 120.5L300.4 70.2M257.8 60.8L300.4 84.3M257.8 91.1L300.4 60.2M257.8 97.6L300.4 77.8M257.8 113.1L300.4 72.9M257.8 98.9L300.4 68.3M257.8 118.1L300.4 49.5M257.8 126.7L300.4 60.1M257.8 96.0L300.4 53.0M257.8 120.8L300.4 40.8M257.8 119.1L300.4 65.6M257.8 114.1L300.4 69.4M257.8 127.3L300.4 70.9M257.8 101.4L300.4 87.9M257.8 125.6L300.4 62.3M257.8 128.9L300.4 94.7M257.8 116.0L300.4 53.3M257.8 105.8L300.4 93.7M257.8 107.9L300.4 89.8M257.8 117.9L300.4 84.8M257.8 100.5L300.4 105.4M257.8 120.8L300.4 85.6M257.8 98.5L300.4 78.0M257.8 102.6L300.4 79.2M257.8 126.4L300.4 71.6M257.8 123.9L300.4 68.7M257.8 129.0L300.4 93.3M257.8 94.1L300.4 90.5M257.8 127.2L300.4 68.0M257.8 116.1L300.4 100.9M257.8 118.7L300.4 83.5M257.8 123.6L300.4 94.8M257.8 122.3L300.4 86.1M257.8 127.3L300.4 61.9M257.8 109.6L300.4 61.3M257.8 107.0L300.4 93.2M257.8 127.1L300.4 73.5M257.8 123.2L300.4 77.8M257.8 120.8L300.4 85.4M257.8 134.9L300.4 84.1" stroke="#6a6a6a" stroke-width="0.6" fill="none"/>
<circle cx="257.80" cy="66.50" r="2.2" fill="#000"/>
<circle cx="300.40" cy="67.24" r="2.2" fill="#000"/>
<circle cx="257.80" cy="87.09" r="2.2" fill="#000"/>
<circle cx="300.40" cy="30.00" r="2.2" fill="#000"/>
<circle cx="257.80" cy="75.20" r="2.2" fill="#000"/>
<circle cx="300.40" cy="79.94" r="2.2" fill="#000"/>
<circle cx="257.80" cy="101.29" r="2.2" fill="#000"/>
<circle cx="300.40" cy="54.77" r="2.2" fill="#000"/>
<circle cx="257.80" cy="95.39" r="2.2" fill="#000"/>
<circle cx="300.40" cy="61.50" r="2.2" fill="#000"/>
<circle cx="257.80" cy="54.90" r="2.2" fill="#000"/>
<circle cx="300.40" cy="62.63" r="2.2" fill="#000"/>
<circle cx="257.80" cy="87.56" r="2.2" fill="#000"/>
<circle cx="300.40" cy="74.41" r="2.2" fill="#000"/>
<circle cx="257.80" cy="108.72" r="2.2" fill="#000"/>
<circle cx="300.40" cy="67.98" r="2.2" fill="#000"/>
<circle cx="257.80" cy="101.82" r="2.2" fill="#000"/>
<circle cx="300.40" cy="60.22" r="2.2" fill="#000"/>
<circle cx="257.80" cy="91.49" r="2.2" fill="#000"/>
<circle cx="300.40" cy="72.82" r="2.2" fill="#000"/>
<circle cx="257.80" cy="89.68" r="2.2" fill="#000"/>
<circle cx="300.40" cy="32.80" r="2.2" fill="#000"/>
<circle cx="257.80" cy="85.59" r="2.2" fill="#000"/>
<circle cx="300.40" cy="56.27" r="2.2" fill="#000"/>
<circle cx="257.80" cy="79.30" r="2.2" fill="#000"/>
<circle cx="300.40" cy="63.82" r="2.2" fill="#000"/>
<circle cx="257.80" cy="109.47" r="2.2" fill="#000"/>
<circle cx="300.40" cy="45.40" r="2.2" fill="#000"/>
<circle cx="257.80" cy="85.99" r="2.2" fill="#000"/>
<circle cx="300.40" cy="58.02" r="2.2" fill="#000"/>
<circle cx="257.80" cy="88.43" r="2.2" fill="#000"/>
<circle cx="300.40" cy="92.77" r="2.2" fill="#000"/>
<circle cx="257.80" cy="120.54" r="2.2" fill="#000"/>
<circle cx="300.40" cy="70.17" r="2.2" fill="#000"/>
<circle cx="257.80" cy="60.80" r="2.2" fill="#000"/>
<circle cx="300.40" cy="84.31" r="2.2" fill="#000"/>
<circle cx="257.80" cy="91.07" r="2.2" fill="#000"/>
<circle cx="300.40" cy="60.22" r="2.2" fill="#000"/>
<circle cx="257.80" cy="97.63" r="2.2" fill="#000"/>
<circle cx="300.40" cy="77.79" r="2.2" fill="#000"/>
<circle cx="257.80" cy="113.10" r="2.2" fill="#000"/>
<circle cx="300.40" cy="72.89" r="2.2" fill="#000"/>
<circle cx="257.80" cy="98.86" r="2.2" fill="#000"/>
<circle cx="300.40" cy="68.27" r="2.2" fill="#000"/>
<circle cx="257.80" cy="118.12" r="2.2" fill="#000"/>
<circle cx="300.40" cy="49.50" r="2.2" fill="#000"/>
<circle cx="257.80" cy="126.67" r="2.2" fill="#000"/>
<circle cx="300.40" cy="60.07" r="2.2" fill="#000"/>
<circle cx="257.80" cy="95.98" r="2.2" fill="#000"/>
<circle cx="300.40" cy="52.97" r="2.2" fill="#000"/>
<circle cx="257.80" cy="120.78" r="2.2" fill="#000"/>
<circle cx="300.40" cy="40.80" r="2.2" fill="#000"/>
<circle cx="257.80" cy="119.10" r="2.2" fill="#000"/>
<circle cx="300.40" cy="65.59" r="2.2" fill="#000"/>
<circle cx="257.80" cy="114.10" r="2.2" fill="#000"/>
<circle cx="300.40" cy="69.37" r="2.2" fill="#000"/>
<circle cx="257.80" cy="127.35" r="2.2" fill="#000"/>
<circle cx="300.40" cy="70.88" r="2.2" fill="#000"/>
<circle cx="257.80" cy="101.40" r="2.2" fill="#000"/>
<circle cx="300.40" cy="87.91" r="2.2" fill="#000"/>
<circle cx="257.80" cy="125.55" r="2.2" fill="#000"/>
<circle cx="300.40" cy="62.30" r="2.2" fill="#000"/>
<circle cx="257.80" cy="128.94" r="2.2" fill="#000"/>
<circle cx="300.40" cy="94.68" r="2.2" fill="#000"/>
<circle cx="257.80" cy="116.00" r="2.2" fill="#000"/>
<circle cx="300.40" cy="53.27" r="2.2" fill="#000"/>
<circle cx="257.80" cy="105.80" r="2.2" fill="#000"/>
<circle cx="300.40" cy="93.68" r="2.2" fill="#000"/>
<circle cx="257.80" cy="107.92" r="2.2" fill="#000"/>
<circle cx="300.40" cy="89.77" r="2.2" fill="#000"/>
<circle cx="257.80" cy="117.87" r="2.2" fill="#000"/>
<circle cx="300.40" cy="84.83" r="2.2" fill="#000"/>
<circle cx="257.80" cy="100.51" r="2.2" fill="#000"/>
<circle cx="300.40" cy="105.40" r="2.2" fill="#000"/>
<circle cx="257.80" cy="120.80" r="2.2" fill="#000"/>
<circle cx="300.40" cy="85.62" r="2.2" fill="#000"/>
<circle cx="257.80" cy="98.50" r="2.2" fill="#000"/>
<circle cx="300.40" cy="78.00" r="2.2" fill="#000"/>
<circle cx="257.80" cy="102.59" r="2.2" fill="#000"/>
<circle cx="300.40" cy="79.19" r="2.2" fill="#000"/>
<circle cx="257.80" cy="126.43" r="2.2" fill="#000"/>
<circle cx="300.40" cy="71.63" r="2.2" fill="#000"/>
<circle cx="257.80" cy="123.89" r="2.2" fill="#000"/>
<circle cx="300.40" cy="68.66" r="2.2" fill="#000"/>
<circle cx="257.80" cy="129.03" r="2.2" fill="#000"/>
<circle cx="300.40" cy="93.28" r="2.2" fill="#000"/>
<circle cx="257.80" cy="94.10" r="2.2" fill="#000"/>
<circle cx="300.40" cy="90.45" r="2.2" fill="#000"/>
<circle cx="257.80" cy="127.21" r="2.2" fill="#000"/>
<circle cx="300.40" cy="68.03" r="2.2" fill="#000"/>
<circle cx="257.80" cy="116.06" r="2.2" fill="#000"/>
<circle cx="300.40" cy="100.90" r="2.2" fill="#000"/>
<circle cx="257.80" cy="118.74" r="2.2" fill="#000"/>
<circle cx="300.40" cy="83.53" r="2.2" fill="#000"/>
<circle cx="257.80" cy="123.58" r="2.2" fill="#000"/>
<circle cx="300.40" cy="94.75" r="2.2" fill="#000"/>
<circle cx="257.80" cy="122.29" r="2.2" fill="#000"/>
<circle cx="300.40" cy="86.12" r="2.2" fill="#000"/>
<circle cx="257.80" cy="127.31" r="2.2" fill="#000"/>
<circle cx="300.40" cy="61.87" r="2.2" fill="#000"/>
<circle cx="257.80" cy="109.56" r="2.2" fill="#000"/>
<circle cx="300.40" cy="61.25" r="2.2" fill="#000"/>
<circle cx="257.80" cy="107.02" r="2.2" fill="#000"/>
<circle cx="300.40" cy="93.20" r="2.2" fill="#000"/>
<circle cx="257.80" cy="127.11" r="2.2" fill="#000"/>
<circle cx="300.40" cy="73.49" r="2.2" fill="#000"/>
<circle cx="257.80" cy="123.24" r="2.2" fill="#000"/>
<circle cx="300.40" cy="77.82" r="2.2" fill="#000"/>
<circle cx="257.80" cy="120.83" r="2.2" fill="#000"/>
<circle cx="300.40" cy="85.40" r="2.2" fill="#000"/>
<circle cx="257.80" cy="134.90" r="2.2" fill="#000"/>
<circle cx="300.40" cy="84.09" r="2.2" fill="#000"/>
<text x="369.50" y="14.10" font-size="14.5" text-anchor="start" fill="#000">C</text>
<text x="547.40" y="10.80" font-size="12" text-anchor="middle" fill="#000">TCGA-ESCA</text>
<line x1="431.30" y1="16.10" x2="431.30" y2="158.50" stroke="#444" stroke-width="1" stroke-linecap="butt" shape-rendering="crispEdges"/>
<line x1="431.30" y1="154.40" x2="670.00" y2="154.40" stroke="#444" stroke-width="1" stroke-linecap="butt" shape-rendering="crispEdges"/>
<line x1="427.00" y1="154.40" x2="431.30" y2="154.40" stroke="#444" stroke-width="1" stroke-linecap="butt" shape-rendering="crispEdges"/>
<text x="425.80" y="158.60" font-size="12" text-anchor="end" fill="#000">0</text>
<line x1="427.00" y1="134.64" x2="431.30" y2="134.64" stroke="#444" stroke-width="1" stroke-linecap="butt" shape-rendering="crispEdges"/>
<text x="425.80" y="138.84" font-size="12" text-anchor="end" fill="#000">50</text>
<line x1="427.00" y1="114.89" x2="431.30" y2="114.89" stroke="#444" stroke-width="1" stroke-linecap="butt" shape-rendering="crispEdges"/>
<text x="425.80" y="119.09" font-size="12" text-anchor="end" fill="#000">100</text>
<line x1="427.00" y1="95.13" x2="431.30" y2="95.13" stroke="#444" stroke-width="1" stroke-linecap="butt" shape-rendering="crispEdges"/>
<text x="425.80" y="99.33" font-size="12" text-anchor="end" fill="#000">150</text>
<line x1="427.00" y1="75.37" x2="431.30" y2="75.37" stroke="#444" stroke-width="1" stroke-linecap="butt" shape-rendering="crispEdges"/>
<text x="425.80" y="79.57" font-size="12" text-anchor="end" fill="#000">200</text>
<line x1="427.00" y1="55.62" x2="431.30" y2="55.62" stroke="#444" stroke-width="1" stroke-linecap="butt" shape-rendering="crispEdges"/>
<text x="425.80" y="59.82" font-size="12" text-anchor="end" fill="#000">250</text>
<line x1="427.00" y1="35.86" x2="431.30" y2="35.86" stroke="#444" stroke-width="1" stroke-linecap="butt" shape-rendering="crispEdges"/>
<text x="425.80" y="40.06" font-size="12" text-anchor="end" fill="#000">300</text>
<line x1="427.00" y1="16.10" x2="431.30" y2="16.10" stroke="#444" stroke-width="1" stroke-linecap="butt" shape-rendering="crispEdges"/>
<text x="425.80" y="20.30" font-size="12" text-anchor="end" fill="#000">350</text>
<line x1="479.30" y1="154.40" x2="479.30" y2="158.50" stroke="#444" stroke-width="1" stroke-linecap="butt" shape-rendering="crispEdges"/>
<line x1="526.80" y1="154.40" x2="526.80" y2="158.50" stroke="#444" stroke-width="1" stroke-linecap="butt" shape-rendering="crispEdges"/>
<line x1="574.30" y1="154.40" x2="574.30" y2="158.50" stroke="#444" stroke-width="1" stroke-linecap="butt" shape-rendering="crispEdges"/>
<line x1="622.40" y1="154.40" x2="622.40" y2="158.50" stroke="#444" stroke-width="1" stroke-linecap="butt" shape-rendering="crispEdges"/>
<line x1="670.00" y1="154.40" x2="670.00" y2="158.50" stroke="#444" stroke-width="1" stroke-linecap="butt" shape-rendering="crispEdges"/>
<text x="405.40" y="85.50" font-size="12.5" text-anchor="middle" fill="#000" transform="rotate(-90 405.4 85.5)">LASP1 mRNA expression</text>
<line x1="455.40" y1="101.20" x2="455.40" y2="128.20" stroke="#444" stroke-width="0.9" stroke-dasharray="4,2" stroke-linecap="butt" shape-rendering="crispEdges"/>
<line x1="455.40" y1="137.70" x2="455.40" y2="140.70" stroke="#444" stroke-width="0.9" stroke-dasharray="4,2" stroke-linecap="butt" shape-rendering="crispEdges"/>
<line x1="449.80" y1="101.20" x2="461.00" y2="101.20" stroke="#444" stroke-width="1" stroke-linecap="butt" shape-rendering="crispEdges"/>
<line x1="449.80" y1="140.70" x2="461.00" y2="140.70" stroke="#444" stroke-width="1" stroke-linecap="butt" shape-rendering="crispEdges"/>
<rect x="443.30" y="128.20" width="24.10" height="9.50" fill="#5b6cf0"/>
<line x1="443.30" y1="135.80" x2="467.40" y2="135.80" stroke="#333" stroke-width="1.2" stroke-linecap="butt" shape-rendering="crispEdges"/>
<line x1="503.00" y1="42.20" x2="503.00" y2="71.60" stroke="#444" stroke-width="0.9" stroke-dasharray="4,2" stroke-linecap="butt" shape-rendering="crispEdges"/>
<line x1="503.00" y1="97.40" x2="503.00" y2="117.70" stroke="#444" stroke-width="0.9" stroke-dasharray="4,2" stroke-linecap="butt" shape-rendering="crispEdges"/>
<line x1="497.40" y1="42.20" x2="508.60" y2="42.20" stroke="#444" stroke-width="1" stroke-linecap="butt" shape-rendering="crispEdges"/>
<line x1="497.40" y1="117.70" x2="508.60" y2="117.70" stroke="#444" stroke-width="1" stroke-linecap="butt" shape-rendering="crispEdges"/>
<rect x="491.10" y="71.60" width="23.70" height="25.80" fill="#e6872e"/>
<line x1="491.10" y1="85.50" x2="514.80" y2="85.50" stroke="#333" stroke-width="1.2" stroke-linecap="butt" shape-rendering="crispEdges"/>
<line x1="550.90" y1="50.40" x2="550.90" y2="96.90" stroke="#444" stroke-width="0.9" stroke-dasharray="4,2" stroke-linecap="butt" shape-rendering="crispEdges"/>
<line x1="550.90" y1="119.40" x2="550.90" y2="139.60" stroke="#444" stroke-width="0.9" stroke-dasharray="4,2" stroke-linecap="butt" shape-rendering="crispEdges"/>
<line x1="545.30" y1="50.40" x2="556.50" y2="50.40" stroke="#444" stroke-width="1" stroke-linecap="butt" shape-rendering="crispEdges"/>
<line x1="545.30" y1="139.60" x2="556.50" y2="139.60" stroke="#444" stroke-width="1" stroke-linecap="butt" shape-rendering="crispEdges"/>
<rect x="539.10" y="96.90" width="23.60" height="22.50" fill="#a86a34"/>
<line x1="539.10" y1="113.30" x2="562.70" y2="113.30" stroke="#333" stroke-width="1.2" stroke-linecap="butt" shape-rendering="crispEdges"/>
<line x1="598.60" y1="33.70" x2="598.60" y2="84.30" stroke="#444" stroke-width="0.9" stroke-dasharray="4,2" stroke-linecap="butt" shape-rendering="crispEdges"/>
<line x1="598.60" y1="115.50" x2="598.60" y2="142.50" stroke="#444" stroke-width="0.9" stroke-dasharray="4,2" stroke-linecap="butt" shape-rendering="crispEdges"/>
<line x1="593.00" y1="33.70" x2="604.20" y2="33.70" stroke="#444" stroke-width="1" stroke-linecap="butt" shape-rendering="crispEdges"/>
<line x1="593.00" y1="142.50" x2="604.20" y2="142.50" stroke="#444" stroke-width="1" stroke-linecap="butt" shape-rendering="crispEdges"/>
<rect x="586.80" y="84.30" width="23.70" height="31.20" fill="#afe22f"/>
<line x1="586.80" y1="104.90" x2="610.50" y2="104.90" stroke="#556b2f" stroke-width="1.2" stroke-linecap="butt" shape-rendering="crispEdges"/>
<line x1="646.20" y1="71.60" x2="646.20" y2="77.00" stroke="#444" stroke-width="0.9" stroke-dasharray="4,2" stroke-linecap="butt" shape-rendering="crispEdges"/>
<line x1="646.20" y1="111.30" x2="646.20" y2="115.90" stroke="#444" stroke-width="0.9" stroke-dasharray="4,2" stroke-linecap="butt" shape-rendering="crispEdges"/>
<line x1="640.60" y1="71.60" x2="651.80" y2="71.60" stroke="#444" stroke-width="1" stroke-linecap="butt" shape-rendering="crispEdges"/>
<line x1="640.60" y1="115.90" x2="651.80" y2="115.90" stroke="#444" stroke-width="1" stroke-linecap="butt" shape-rendering="crispEdges"/>
<rect x="634.40" y="77.00" width="23.60" height="34.30" fill="#f23b19"/>
<line x1="634.40" y1="100.10" x2="658.00" y2="100.10" stroke="#333" stroke-width="1.2" stroke-linecap="butt" shape-rendering="crispEdges"/>
<text x="455.40" y="166.10" font-size="12" text-anchor="middle" fill="#000">Normal</text>
<text x="455.40" y="177.20" font-size="12" text-anchor="middle" fill="#000">(n=11)</text>
<text x="503.00" y="166.10" font-size="12" text-anchor="middle" fill="#000">N0</text>
<text x="503.00" y="177.20" font-size="12" text-anchor="middle" fill="#000">(n=76)</text>
<text x="550.90" y="166.10" font-size="12" text-anchor="middle" fill="#000">N1</text>
<text x="550.90" y="177.20" font-size="12" text-anchor="middle" fill="#000">(n=69)</text>
<text x="598.60" y="166.10" font-size="12" text-anchor="middle" fill="#000">N2</text>
<text x="598.60" y="177.20" font-size="12" text-anchor="middle" fill="#000">(n=12)</text>
<text x="646.20" y="166.10" font-size="12" text-anchor="middle" fill="#000">N3</text>
<text x="646.20" y="177.20" font-size="12" text-anchor="middle" fill="#000">(n=8)</text>
<line x1="453.30" y1="21.50" x2="640.80" y2="21.50" stroke="#555" stroke-width="1" stroke-linecap="butt" shape-rendering="crispEdges"/>
<line x1="453.30" y1="29.50" x2="594.50" y2="29.50" stroke="#555" stroke-width="1" stroke-linecap="butt" shape-rendering="crispEdges"/>
<line x1="453.30" y1="37.50" x2="503.00" y2="37.50" stroke="#555" stroke-width="1" stroke-linecap="butt" shape-rendering="crispEdges"/>
<path d="M549.40 15.40L549.40 20.60M547.15 16.70L551.65 19.30M547.15 19.30L551.65 16.70" stroke="#111" stroke-width="1.1" fill="none"/>
<path d="M520.60 23.50L520.60 28.70M518.35 24.80L522.85 27.40M518.35 27.40L522.85 24.80M526.90 23.50L526.90 28.70M524.65 24.80L529.15 27.40M524.65 27.40L529.15 24.80" stroke="#111" stroke-width="1.1" fill="none"/>
<path d="M471.70 31.00L471.70 36.20M469.45 32.30L473.95 34.90M469.45 34.90L473.95 32.30M478.25 31.00L478.25 36.20M476.00 32.30L480.50 34.90M476.00 34.90L480.50 32.30M484.80 31.00L484.80 36.20M482.55 32.30L487.05 34.90M482.55 34.90L487.05 32.30" stroke="#111" stroke-width="1.1" fill="none"/>
<text x="3.00" y="192.00" font-size="14.5" text-anchor="start" fill="#000">D</text>
<text x="171.20" y="200.50" font-size="12" text-anchor="middle" fill="#000">TCGA-ESCA</text>
<line x1="53.40" y1="206.00" x2="53.40" y2="347.50" stroke="#444" stroke-width="1" stroke-linecap="butt" shape-rendering="crispEdges"/>
<line x1="53.40" y1="343.60" x2="290.30" y2="343.60" stroke="#444" stroke-width="1" stroke-linecap="butt" shape-rendering="crispEdges"/>
<line x1="49.00" y1="343.60" x2="53.40" y2="343.60" stroke="#444" stroke-width="1" stroke-linecap="butt" shape-rendering="crispEdges"/>
<text x="48.20" y="347.80" font-size="12" text-anchor="end" fill="#000">0</text>
<line x1="49.00" y1="323.94" x2="53.40" y2="323.94" stroke="#444" stroke-width="1" stroke-linecap="butt" shape-rendering="crispEdges"/>
<text x="48.20" y="328.14" font-size="12" text-anchor="end" fill="#000">50</text>
<line x1="49.00" y1="304.29" x2="53.40" y2="304.29" stroke="#444" stroke-width="1" stroke-linecap="butt" shape-rendering="crispEdges"/>
<text x="48.20" y="308.49" font-size="12" text-anchor="end" fill="#000">100</text>
<line x1="49.00" y1="284.63" x2="53.40" y2="284.63" stroke="#444" stroke-width="1" stroke-linecap="butt" shape-rendering="crispEdges"/>
<text x="48.20" y="288.83" font-size="12" text-anchor="end" fill="#000">150</text>
<line x1="49.00" y1="264.97" x2="53.40" y2="264.97" stroke="#444" stroke-width="1" stroke-linecap="butt" shape-rendering="crispEdges"/>
<text x="48.20" y="269.17" font-size="12" text-anchor="end" fill="#000">200</text>
<line x1="49.00" y1="245.32" x2="53.40" y2="245.32" stroke="#444" stroke-width="1" stroke-linecap="butt" shape-rendering="crispEdges"/>
<text x="48.20" y="249.52" font-size="12" text-anchor="end" fill="#000">250</text>
<line x1="49.00" y1="225.66" x2="53.40" y2="225.66" stroke="#444" stroke-width="1" stroke-linecap="butt" shape-rendering="crispEdges"/>
<text x="48.20" y="229.86" font-size="12" text-anchor="end" fill="#000">300</text>
<line x1="49.00" y1="206.00" x2="53.40" y2="206.00" stroke="#444" stroke-width="1" stroke-linecap="butt" shape-rendering="crispEdges"/>
<text x="48.20" y="210.20" font-size="12" text-anchor="end" fill="#000">350</text>
<line x1="101.00" y1="343.60" x2="101.00" y2="347.50" stroke="#444" stroke-width="1" stroke-linecap="butt" shape-rendering="crispEdges"/>
<line x1="148.40" y1="343.60" x2="148.40" y2="347.50" stroke="#444" stroke-width="1" stroke-linecap="butt" shape-rendering="crispEdges"/>
<line x1="195.70" y1="343.60" x2="195.70" y2="347.50" stroke="#444" stroke-width="1" stroke-linecap="butt" shape-rendering="crispEdges"/>
<line x1="243.00" y1="343.60" x2="243.00" y2="347.50" stroke="#444" stroke-width="1" stroke-linecap="butt" shape-rendering="crispEdges"/>
<line x1="290.30" y1="343.60" x2="290.30" y2="347.50" stroke="#444" stroke-width="1" stroke-linecap="butt" shape-rendering="crispEdges"/>
<text x="26.80" y="273.50" font-size="12.5" text-anchor="middle" fill="#000" transform="rotate(-90 26.8 273.5)">LASP1 mRNA expression</text>
<line x1="78.00" y1="290.30" x2="78.00" y2="317.20" stroke="#444" stroke-width="0.9" stroke-dasharray="4,2" stroke-linecap="butt" shape-rendering="crispEdges"/>
<line x1="78.00" y1="326.30" x2="78.00" y2="330.40" stroke="#444" stroke-width="0.9" stroke-dasharray="4,2" stroke-linecap="butt" shape-rendering="crispEdges"/>
<line x1="72.40" y1="290.30" x2="83.60" y2="290.30" stroke="#444" stroke-width="1" stroke-linecap="butt" shape-rendering="crispEdges"/>
<line x1="72.40" y1="330.40" x2="83.60" y2="330.40" stroke="#444" stroke-width="1" stroke-linecap="butt" shape-rendering="crispEdges"/>
<rect x="67.00" y="317.20" width="22.00" height="9.10" fill="#5b6cf0"/>
<line x1="67.00" y1="323.90" x2="89.00" y2="323.90" stroke="#333" stroke-width="1.2" stroke-linecap="butt" shape-rendering="crispEdges"/>
<line x1="124.80" y1="231.20" x2="124.80" y2="261.40" stroke="#444" stroke-width="0.9" stroke-dasharray="4,2" stroke-linecap="butt" shape-rendering="crispEdges"/>
<line x1="124.80" y1="286.30" x2="124.80" y2="306.40" stroke="#444" stroke-width="0.9" stroke-dasharray="4,2" stroke-linecap="butt" shape-rendering="crispEdges"/>
<line x1="119.20" y1="231.20" x2="130.40" y2="231.20" stroke="#444" stroke-width="1" stroke-linecap="butt" shape-rendering="crispEdges"/>
<line x1="119.20" y1="306.40" x2="130.40" y2="306.40" stroke="#444" stroke-width="1" stroke-linecap="butt" shape-rendering="crispEdges"/>
<rect x="113.10" y="261.40" width="23.50" height="24.90" fill="#e6872e"/>
<line x1="113.10" y1="274.20" x2="136.60" y2="274.20" stroke="#333" stroke-width="1.2" stroke-linecap="butt" shape-rendering="crispEdges"/>
<line x1="172.20" y1="239.60" x2="172.20" y2="286.40" stroke="#444" stroke-width="0.9" stroke-dasharray="4,2" stroke-linecap="butt" shape-rendering="crispEdges"/>
<line x1="172.20" y1="308.20" x2="172.20" y2="328.40" stroke="#444" stroke-width="0.9" stroke-dasharray="4,2" stroke-linecap="butt" shape-rendering="crispEdges"/>
<line x1="166.60" y1="239.60" x2="177.80" y2="239.60" stroke="#444" stroke-width="1" stroke-linecap="butt" shape-rendering="crispEdges"/>
<line x1="166.60" y1="328.40" x2="177.80" y2="328.40" stroke="#444" stroke-width="1" stroke-linecap="butt" shape-rendering="crispEdges"/>
<rect x="160.70" y="286.40" width="23.10" height="21.80" fill="#a86a34"/>
<line x1="160.70" y1="302.20" x2="183.80" y2="302.20" stroke="#333" stroke-width="1.2" stroke-linecap="butt" shape-rendering="crispEdges"/>
<line x1="219.40" y1="223.40" x2="219.40" y2="273.30" stroke="#444" stroke-width="0.9" stroke-dasharray="4,2" stroke-linecap="butt" shape-rendering="crispEdges"/>
<line x1="219.40" y1="304.80" x2="219.40" y2="331.60" stroke="#444" stroke-width="0.9" stroke-dasharray="4,2" stroke-linecap="butt" shape-rendering="crispEdges"/>
<line x1="213.80" y1="223.40" x2="225.00" y2="223.40" stroke="#444" stroke-width="1" stroke-linecap="butt" shape-rendering="crispEdges"/>
<line x1="213.80" y1="331.60" x2="225.00" y2="331.60" stroke="#444" stroke-width="1" stroke-linecap="butt" shape-rendering="crispEdges"/>
<rect x="208.00" y="273.30" width="22.90" height="31.50" fill="#afe22f"/>
<line x1="208.00" y1="294.30" x2="230.90" y2="294.30" stroke="#3a4a10" stroke-width="1.2" stroke-linecap="butt" shape-rendering="crispEdges"/>
<line x1="266.70" y1="260.90" x2="266.70" y2="265.90" stroke="#444" stroke-width="0.9" stroke-dasharray="4,2" stroke-linecap="butt" shape-rendering="crispEdges"/>
<line x1="266.70" y1="300.90" x2="266.70" y2="305.30" stroke="#444" stroke-width="0.9" stroke-dasharray="4,2" stroke-linecap="butt" shape-rendering="crispEdges"/>
<line x1="261.10" y1="260.90" x2="272.30" y2="260.90" stroke="#444" stroke-width="1" stroke-linecap="butt" shape-rendering="crispEdges"/>
<line x1="261.10" y1="305.30" x2="272.30" y2="305.30" stroke="#444" stroke-width="1" stroke-linecap="butt" shape-rendering="crispEdges"/>
<rect x="255.00" y="265.90" width="23.40" height="35.00" fill="#f23b19"/>
<line x1="255.00" y1="289.60" x2="278.40" y2="289.60" stroke="#333" stroke-width="1.2" stroke-linecap="butt" shape-rendering="crispEdges"/>
<text x="78.00" y="355.20" font-size="12" text-anchor="middle" fill="#000">Normal</text>
<text x="78.00" y="365.60" font-size="12" text-anchor="middle" fill="#000">(n=11)</text>
<text x="124.80" y="355.20" font-size="12" text-anchor="middle" fill="#000">Stage1</text>
<text x="124.80" y="365.60" font-size="12" text-anchor="middle" fill="#000">(n=13)</text>
<text x="172.20" y="355.20" font-size="12" text-anchor="middle" fill="#000">Stage2</text>
<text x="172.20" y="365.60" font-size="12" text-anchor="middle" fill="#000">(n=78)</text>
<text x="219.40" y="355.20" font-size="12" text-anchor="middle" fill="#000">Stage3</text>
<text x="219.40" y="365.60" font-size="12" text-anchor="middle" fill="#000">(n=55)</text>
<text x="266.70" y="355.20" font-size="12" text-anchor="middle" fill="#000">Stage4</text>
<text x="266.70" y="365.60" font-size="12" text-anchor="middle" fill="#000">(n=9)</text>
<line x1="74.90" y1="212.00" x2="261.90" y2="212.00" stroke="#999" stroke-width="1.3" stroke-linecap="butt" shape-rendering="crispEdges"/>
<line x1="74.90" y1="220.10" x2="215.90" y2="220.10" stroke="#999" stroke-width="1.3" stroke-linecap="butt" shape-rendering="crispEdges"/>
<line x1="74.90" y1="228.30" x2="124.70" y2="228.30" stroke="#555" stroke-width="1" stroke-linecap="butt" shape-rendering="crispEdges"/>
<path d="M170.40 206.20L170.40 211.20M168.23 207.45L172.57 209.95M168.23 209.95L172.57 207.45" stroke="#111" stroke-width="1.0" fill="none"/>
<path d="M145.30 213.90L145.30 218.90M143.13 215.15L147.47 217.65M143.13 217.65L147.47 215.15" stroke="#111" stroke-width="1.0" fill="none"/>
<path d="M97.25 222.60L97.25 227.60M95.08 223.85L99.42 226.35M95.08 226.35L99.42 223.85M103.35 222.60L103.35 227.60M101.18 223.85L105.52 226.35M101.18 226.35L105.52 223.85" stroke="#111" stroke-width="1.0" fill="none"/>
<text x="311.50" y="201.90" font-size="14.5" text-anchor="start" fill="#000">E</text>
<text x="405.40" y="200.20" font-size="12" text-anchor="middle" fill="#000">TCGA-ESCC-Stage</text>
<line x1="353.70" y1="207.90" x2="353.70" y2="345.10" stroke="#444" stroke-width="1" stroke-linecap="butt" shape-rendering="crispEdges"/>
<line x1="353.70" y1="345.10" x2="456.50" y2="345.10" stroke="#444" stroke-width="1" stroke-linecap="butt" shape-rendering="crispEdges"/>
<line x1="349.90" y1="345.10" x2="353.70" y2="345.10" stroke="#444" stroke-width="1" stroke-linecap="butt" shape-rendering="crispEdges"/>
<text x="346.60" y="349.20" font-size="12" text-anchor="end" fill="#000">4</text>
<line x1="349.90" y1="310.80" x2="353.70" y2="310.80" stroke="#444" stroke-width="1" stroke-linecap="butt" shape-rendering="crispEdges"/>
<text x="346.60" y="314.90" font-size="12" text-anchor="end" fill="#000">5</text>
<line x1="349.90" y1="276.50" x2="353.70" y2="276.50" stroke="#444" stroke-width="1" stroke-linecap="butt" shape-rendering="crispEdges"/>
<text x="346.60" y="280.60" font-size="12" text-anchor="end" fill="#000">6</text>
<line x1="349.90" y1="242.20" x2="353.70" y2="242.20" stroke="#444" stroke-width="1" stroke-linecap="butt" shape-rendering="crispEdges"/>
<text x="346.60" y="246.30" font-size="12" text-anchor="end" fill="#000">7</text>
<line x1="349.90" y1="207.90" x2="353.70" y2="207.90" stroke="#444" stroke-width="1" stroke-linecap="butt" shape-rendering="crispEdges"/>
<text x="346.60" y="212.00" font-size="12" text-anchor="end" fill="#000">8</text>
<line x1="381.20" y1="345.10" x2="381.20" y2="349.30" stroke="#444" stroke-width="1" stroke-linecap="butt" shape-rendering="crispEdges"/>
<line x1="429.30" y1="345.10" x2="429.30" y2="349.30" stroke="#444" stroke-width="1" stroke-linecap="butt" shape-rendering="crispEdges"/>
<text x="334.40" y="276.60" font-size="12.5" text-anchor="middle" fill="#000" transform="rotate(-90 334.4 276.6)">LASP1 mRNA expression</text>
<rect x="367.20" y="266.60" width="27.60" height="78.50" fill="#333333"/>
<rect x="415.30" y="253.10" width="27.50" height="92.00" fill="#a4a4a8"/>
<line x1="381.20" y1="247.00" x2="381.20" y2="285.90" stroke="#111" stroke-width="1.1" stroke-linecap="butt" shape-rendering="crispEdges"/>
<line x1="374.20" y1="247.00" x2="388.20" y2="247.00" stroke="#111" stroke-width="1.1" stroke-linecap="butt" shape-rendering="crispEdges"/>
<line x1="374.20" y1="285.90" x2="388.20" y2="285.90" stroke="#111" stroke-width="1.1" stroke-linecap="butt" shape-rendering="crispEdges"/>
<line x1="429.30" y1="234.50" x2="429.30" y2="271.50" stroke="#333" stroke-width="1.1" stroke-linecap="butt" shape-rendering="crispEdges"/>
<line x1="422.30" y1="234.50" x2="436.40" y2="234.50" stroke="#222" stroke-width="1.1" stroke-linecap="butt" shape-rendering="crispEdges"/>
<line x1="422.30" y1="271.50" x2="436.40" y2="271.50" stroke="#333" stroke-width="1.1" stroke-linecap="butt" shape-rendering="crispEdges"/>
<circle cx="378.90" cy="238.20" r="1.9" fill="#000"/>
<circle cx="383.40" cy="241.70" r="1.9" fill="#000"/>
<circle cx="373.60" cy="249.40" r="1.9" fill="#000"/>
<circle cx="378.90" cy="249.40" r="1.9" fill="#000"/>
<circle cx="383.40" cy="247.30" r="1.9" fill="#000"/>
<circle cx="387.70" cy="247.70" r="1.9" fill="#000"/>
<circle cx="368.90" cy="257.00" r="1.9" fill="#000"/>
<circle cx="374.20" cy="257.00" r="1.9" fill="#000"/>
<circle cx="378.50" cy="256.10" r="1.9" fill="#000"/>
<circle cx="382.90" cy="256.10" r="1.9" fill="#000"/>
<circle cx="387.70" cy="257.00" r="1.9" fill="#000"/>
<circle cx="392.60" cy="256.10" r="1.9" fill="#000"/>
<circle cx="373.60" cy="261.30" r="1.9" fill="#000"/>
<circle cx="382.40" cy="261.30" r="1.9" fill="#000"/>
<circle cx="373.30" cy="266.90" r="1.9" fill="#000"/>
<circle cx="377.70" cy="266.60" r="1.9" fill="#000"/>
<circle cx="382.90" cy="266.60" r="1.9" fill="#000"/>
<circle cx="387.30" cy="266.60" r="1.9" fill="#000"/>
<circle cx="378.50" cy="270.10" r="1.9" fill="#000"/>
<circle cx="382.90" cy="270.10" r="1.9" fill="#000"/>
<circle cx="378.50" cy="276.20" r="1.9" fill="#000"/>
<circle cx="382.90" cy="278.90" r="1.9" fill="#000"/>
<circle cx="378.50" cy="292.90" r="1.9" fill="#000"/>
<circle cx="382.90" cy="293.80" r="1.9" fill="#000"/>
<circle cx="381.20" cy="300.80" r="1.9" fill="#000"/>
<circle cx="381.20" cy="306.60" r="1.9" fill="#000"/>
<circle cx="381.20" cy="310.40" r="1.9" fill="#000"/>
<circle cx="429.00" cy="215.80" r="1.9" fill="#000"/>
<circle cx="421.80" cy="235.00" r="1.9" fill="#000"/>
<circle cx="429.00" cy="236.50" r="1.9" fill="#000"/>
<circle cx="421.80" cy="244.70" r="1.9" fill="#000"/>
<circle cx="429.00" cy="243.50" r="1.9" fill="#000"/>
<circle cx="435.80" cy="245.20" r="1.9" fill="#000"/>
<circle cx="429.00" cy="247.70" r="1.9" fill="#000"/>
<circle cx="421.80" cy="253.80" r="1.9" fill="#000"/>
<circle cx="429.00" cy="255.70" r="1.9" fill="#000"/>
<circle cx="435.80" cy="255.70" r="1.9" fill="#000"/>
<circle cx="429.00" cy="260.50" r="1.9" fill="#000"/>
<circle cx="421.80" cy="267.10" r="1.9" fill="#000"/>
<circle cx="432.30" cy="267.10" r="1.9" fill="#000"/>
<circle cx="429.00" cy="276.60" r="1.9" fill="#000"/>
<circle cx="429.00" cy="291.70" r="1.9" fill="#000"/>
<line x1="380.30" y1="212.30" x2="429.30" y2="212.30" stroke="#333" stroke-width="1" stroke-linecap="butt" shape-rendering="crispEdges"/>
<path d="M404.80 205.10L404.80 210.70M402.38 206.50L407.22 209.30M402.38 209.30L407.22 206.50" stroke="#111" stroke-width="1.2" fill="none"/>
<text x="382.00" y="357.70" font-size="12" text-anchor="middle" fill="#000">I+II</text>
<text x="431.50" y="357.70" font-size="12" text-anchor="middle" fill="#000">III+IV</text>
<text x="505.50" y="202.00" font-size="14.5" text-anchor="start" fill="#000">J</text>
<circle cx="534.10" cy="201.30" r="2.4" fill="#5ec8d0"/>
<text x="539.30" y="204.20" font-size="12" text-anchor="start" fill="#000">Normal</text>
<circle cx="582.00" cy="201.30" r="2.4" fill="#1010f0"/>
<text x="586.40" y="204.20" font-size="12" text-anchor="start" fill="#000">Tumor</text>
<circle cx="625.10" cy="201.30" r="2.4" fill="#e02020"/>
<text x="630.30" y="204.20" font-size="12" text-anchor="start" fill="#000">Metastasis</text>
<line x1="532.60" y1="333.20" x2="679.00" y2="333.20" stroke="#e6e6e6" stroke-width="0.9" stroke-linecap="butt" shape-rendering="crispEdges"/>
<line x1="532.60" y1="314.60" x2="679.00" y2="314.60" stroke="#e6e6e6" stroke-width="0.9" stroke-linecap="butt" shape-rendering="crispEdges"/>
<line x1="532.60" y1="296.00" x2="679.00" y2="296.00" stroke="#e6e6e6" stroke-width="0.9" stroke-linecap="butt" shape-rendering="crispEdges"/>
<line x1="532.60" y1="277.40" x2="679.00" y2="277.40" stroke="#e6e6e6" stroke-width="0.9" stroke-linecap="butt" shape-rendering="crispEdges"/>
<line x1="532.60" y1="258.80" x2="679.00" y2="258.80" stroke="#e6e6e6" stroke-width="0.9" stroke-linecap="butt" shape-rendering="crispEdges"/>
<line x1="532.60" y1="240.20" x2="679.00" y2="240.20" stroke="#e6e6e6" stroke-width="0.9" stroke-linecap="butt" shape-rendering="crispEdges"/>
<line x1="532.60" y1="221.60" x2="679.00" y2="221.60" stroke="#e6e6e6" stroke-width="0.9" stroke-linecap="butt" shape-rendering="crispEdges"/>
<path d="M559.20 244.20 L558.70 250.00 L558.50 260.00 L558.30 270.00 L558.20 277.60 L557.70 290.00 L557.40 296.60 L557.00 300.00 L556.30 303.60 L555.00 306.00 L553.40 308.00 L550.70 310.00 L547.50 312.30 L545.40 314.50 L543.50 316.70 L541.70 319.00 L540.60 321.10 L540.60 323.50 L541.30 325.50 L542.90 328.00 L545.00 329.90 L547.70 332.00 L550.40 334.20 L553.40 336.50 L555.60 338.60 L556.80 341.00 L557.45 343.00 L558.20 345.50 L559.20 347.50 L559.20 347.50 L560.20 345.50 L560.95 343.00 L561.60 341.00 L562.80 338.60 L565.00 336.50 L568.00 334.20 L570.70 332.00 L573.40 329.90 L575.50 328.00 L577.10 325.50 L577.80 323.50 L577.80 321.10 L576.70 319.00 L574.90 316.70 L573.00 314.50 L570.90 312.30 L567.70 310.00 L565.00 308.00 L563.40 306.00 L562.10 303.60 L561.40 300.00 L561.00 296.60 L560.70 290.00 L560.20 277.60 L560.10 270.00 L559.90 260.00 L559.70 250.00 L559.20 244.20Z" fill="#9ddfe3" stroke="#333" stroke-width="0.7" stroke-linejoin="round"/>
<path d="M605.40 244.60 L601.90 245.20 L598.90 246.20 L596.60 247.80 L593.60 250.00 L590.80 252.20 L588.80 255.00 L587.80 258.00 L587.90 261.00 L589.00 263.50 L590.10 265.50 L590.20 267.50 L589.00 270.00 L589.00 273.00 L590.20 276.00 L591.00 278.50 L591.20 281.00 L590.80 284.60 L591.90 287.50 L593.20 290.00 L593.90 292.50 L594.40 296.00 L594.40 300.00 L593.90 304.00 L592.80 307.00 L591.20 310.00 L589.70 313.80 L589.00 316.50 L588.70 319.60 L589.20 322.50 L590.90 325.00 L592.90 327.00 L594.40 328.40 L596.10 330.00 L598.40 332.00 L601.00 334.20 L602.40 336.50 L603.40 340.00 L604.40 344.00 L605.40 347.40 L605.40 347.40 L606.40 344.00 L607.40 340.00 L608.40 336.50 L609.80 334.20 L612.40 332.00 L614.70 330.00 L616.40 328.40 L617.90 327.00 L619.90 325.00 L621.60 322.50 L622.10 319.60 L621.80 316.50 L621.10 313.80 L619.60 310.00 L618.00 307.00 L616.90 304.00 L616.40 300.00 L616.40 296.00 L616.90 292.50 L617.60 290.00 L618.90 287.50 L620.00 284.60 L619.60 281.00 L619.80 278.50 L620.60 276.00 L621.80 273.00 L621.80 270.00 L620.60 267.50 L620.70 265.50 L621.80 263.50 L622.90 261.00 L623.00 258.00 L622.00 255.00 L620.00 252.20 L617.20 250.00 L614.20 247.80 L611.90 246.20 L608.90 245.20 L605.40 244.60Z" fill="#7a7af6" stroke="#333" stroke-width="0.7" stroke-linejoin="round"/>
<path d="M652.20 244.10 L648.20 244.70 L644.20 245.70 L640.50 247.80 L638.00 250.00 L636.20 252.20 L634.60 255.00 L633.70 258.00 L634.00 261.00 L635.40 263.50 L636.60 265.50 L636.80 267.50 L636.20 270.00 L636.60 273.00 L638.60 276.00 L639.80 278.50 L640.30 281.00 L641.00 284.60 L642.40 286.50 L644.40 288.00 L646.60 290.00 L647.80 291.90 L648.60 296.00 L649.20 305.00 L650.00 320.00 L650.70 333.00 L651.20 340.00 L652.20 347.40 L652.20 347.40 L653.20 340.00 L653.70 333.00 L654.40 320.00 L655.20 305.00 L655.80 296.00 L656.60 291.90 L657.80 290.00 L660.00 288.00 L662.00 286.50 L663.40 284.60 L664.10 281.00 L664.60 278.50 L665.80 276.00 L667.80 273.00 L668.20 270.00 L667.60 267.50 L667.80 265.50 L669.00 263.50 L670.40 261.00 L670.70 258.00 L669.80 255.00 L668.20 252.20 L666.40 250.00 L663.90 247.80 L660.20 245.70 L656.20 244.70 L652.20 244.10Z" fill="#e6737a" stroke="#333" stroke-width="0.7" stroke-linejoin="round"/>
<line x1="549.00" y1="319.25" x2="571.00" y2="319.25" stroke="#222" stroke-width="0.9" stroke-dasharray="3,1.5" stroke-linecap="butt" shape-rendering="crispEdges"/>
<line x1="546.80" y1="323.90" x2="572.40" y2="323.90" stroke="#777" stroke-width="0.7" stroke-dasharray="1,1.2" stroke-linecap="butt"/>
<line x1="555.00" y1="314.60" x2="563.00" y2="314.60" stroke="#777" stroke-width="0.6" stroke-dasharray="1.5,1.5" stroke-linecap="butt"/>
<line x1="552.00" y1="291.35" x2="564.00" y2="291.35" stroke="#aaa" stroke-width="0.6" stroke-dasharray="1,1.5" stroke-linecap="butt"/>
<line x1="554.00" y1="305.30" x2="564.00" y2="305.30" stroke="#aaa" stroke-width="0.6" stroke-dasharray="1,1.5" stroke-linecap="butt"/>
<line x1="589.00" y1="258.80" x2="622.00" y2="258.80" stroke="#222" stroke-width="0.9" stroke-dasharray="3,1.5" stroke-linecap="butt" shape-rendering="crispEdges"/>
<line x1="591.00" y1="277.40" x2="620.00" y2="277.40" stroke="#333" stroke-width="0.7" stroke-dasharray="2,1.5" stroke-linecap="butt"/>
<line x1="593.00" y1="291.35" x2="618.00" y2="291.35" stroke="#555" stroke-width="0.6" stroke-dasharray="1,1.5" stroke-linecap="butt"/>
<line x1="594.00" y1="296.00" x2="617.00" y2="296.00" stroke="#555" stroke-width="0.6" stroke-dasharray="1,1.5" stroke-linecap="butt"/>
<line x1="595.00" y1="305.30" x2="616.00" y2="305.30" stroke="#555" stroke-width="0.6" stroke-dasharray="1,1.5" stroke-linecap="butt"/>
<line x1="592.00" y1="314.60" x2="619.00" y2="314.60" stroke="#333" stroke-width="0.7" stroke-dasharray="2,1.5" stroke-linecap="butt"/>
<line x1="590.00" y1="319.25" x2="621.00" y2="319.25" stroke="#333" stroke-width="0.7" stroke-dasharray="2,1.5" stroke-linecap="butt"/>
<line x1="592.00" y1="323.90" x2="619.00" y2="323.90" stroke="#555" stroke-width="0.6" stroke-dasharray="1,1.5" stroke-linecap="butt"/>
<line x1="596.00" y1="328.55" x2="615.00" y2="328.55" stroke="#555" stroke-width="0.6" stroke-dasharray="1,1.5" stroke-linecap="butt"/>
<line x1="643.00" y1="258.80" x2="662.00" y2="258.80" stroke="#222" stroke-width="0.9" stroke-dasharray="3,1.5" stroke-linecap="butt" shape-rendering="crispEdges"/>
<line x1="644.00" y1="277.40" x2="661.00" y2="277.40" stroke="#333" stroke-width="0.8" stroke-dasharray="3,1.5" stroke-linecap="butt"/>
<line x1="559.20" y1="277.40" x2="559.20" y2="333.20" stroke="#111" stroke-width="0.9" stroke-linecap="butt" shape-rendering="crispEdges"/>
<line x1="559.20" y1="244.20" x2="559.20" y2="277.40" stroke="#111" stroke-width="1.3" stroke-linecap="butt" shape-rendering="crispEdges"/>
<rect x="557.60" y="319.25" width="3.20" height="4.65" fill="#bdeff2" stroke="#222" stroke-width="0.7"/>
<line x1="557.00" y1="333.20" x2="563.50" y2="333.20" stroke="#222" stroke-width="0.9" stroke-linecap="butt" shape-rendering="crispEdges"/>
<line x1="605.50" y1="314.60" x2="605.50" y2="333.20" stroke="#111" stroke-width="0.9" stroke-linecap="butt" shape-rendering="crispEdges"/>
<rect x="603.50" y="258.80" width="4.10" height="55.80" fill="#9fb4f7" stroke="#222" stroke-width="0.7"/>
<line x1="603.50" y1="277.40" x2="607.60" y2="277.40" stroke="#222" stroke-width="0.8" stroke-linecap="butt"/>
<line x1="652.30" y1="277.40" x2="652.30" y2="333.20" stroke="#111" stroke-width="0.9" stroke-linecap="butt" shape-rendering="crispEdges"/>
<rect x="650.30" y="258.80" width="4.00" height="18.60" fill="#e03a3a" stroke="#222" stroke-width="0.7"/>
<line x1="650.30" y1="268.10" x2="654.30" y2="268.10" stroke="#222" stroke-width="0.8" stroke-linecap="butt"/>
<rect x="532.10" y="207.70" width="147.40" height="144.80" fill="none" stroke="#555" stroke-width="1.1"/>
<line x1="529.30" y1="351.80" x2="532.10" y2="351.80" stroke="#444" stroke-width="1" stroke-linecap="butt" shape-rendering="crispEdges"/>
<text x="528.40" y="355.90" font-size="12" text-anchor="end" fill="#000">−2</text>
<line x1="529.30" y1="333.20" x2="532.10" y2="333.20" stroke="#444" stroke-width="1" stroke-linecap="butt" shape-rendering="crispEdges"/>
<text x="528.40" y="337.30" font-size="12" text-anchor="end" fill="#000">0</text>
<line x1="529.30" y1="314.60" x2="532.10" y2="314.60" stroke="#444" stroke-width="1" stroke-linecap="butt" shape-rendering="crispEdges"/>
<text x="528.40" y="318.70" font-size="12" text-anchor="end" fill="#000">2</text>
<line x1="529.30" y1="296.00" x2="532.10" y2="296.00" stroke="#444" stroke-width="1" stroke-linecap="butt" shape-rendering="crispEdges"/>
<text x="528.40" y="300.10" font-size="12" text-anchor="end" fill="#000">4</text>
<line x1="529.30" y1="277.40" x2="532.10" y2="277.40" stroke="#444" stroke-width="1" stroke-linecap="butt" shape-rendering="crispEdges"/>
<text x="528.40" y="281.50" font-size="12" text-anchor="end" fill="#000">6</text>
<line x1="529.30" y1="258.80" x2="532.10" y2="258.80" stroke="#444" stroke-width="1" stroke-linecap="butt" shape-rendering="crispEdges"/>
<text x="528.40" y="262.90" font-size="12" text-anchor="end" fill="#000">8</text>
<line x1="529.30" y1="240.20" x2="532.10" y2="240.20" stroke="#444" stroke-width="1" stroke-linecap="butt" shape-rendering="crispEdges"/>
<text x="528.40" y="244.30" font-size="12" text-anchor="end" fill="#000">10</text>
<line x1="529.30" y1="221.60" x2="532.10" y2="221.60" stroke="#444" stroke-width="1" stroke-linecap="butt" shape-rendering="crispEdges"/>
<text x="528.40" y="225.70" font-size="12" text-anchor="end" fill="#000">12</text>
<line x1="605.40" y1="352.50" x2="605.40" y2="355.00" stroke="#444" stroke-width="1" stroke-linecap="butt" shape-rendering="crispEdges"/>
<text x="605.60" y="361.60" font-size="12" text-anchor="middle" fill="#000">Group</text>
<text x="514.10" y="277.20" font-size="12.2" text-anchor="middle" fill="#000" transform="rotate(-90 514.1 277.2)">LASP1 Staining</text>
<path d="M559.2 224.5V222.5H652.4V224.5" fill="none" stroke="#555" stroke-width="1"/>
<path d="M559.2 240.7V238.7H605.4V240.7" fill="none" stroke="#555" stroke-width="1"/>
<path d="M605.4 237.7V235.7H652.4V237.7" fill="none" stroke="#555" stroke-width="1"/>
<text x="582.60" y="218.40" font-size="12" text-anchor="start" fill="#000"><tspan font-style="italic">p</tspan>&lt;0.0001</text>
<text x="559.80" y="235.50" font-size="12" text-anchor="start" fill="#000"><tspan font-style="italic">p</tspan>&lt;0.0001</text>
<text x="612.00" y="232.70" font-size="12" text-anchor="start" fill="#000"><tspan font-style="italic">p</tspan>&lt;0.01</text>
<text x="4.30" y="392.80" font-size="14.5" text-anchor="start" fill="#000">F</text>
<text x="109.20" y="406.00" font-size="12" text-anchor="middle" fill="#000">LASP1</text>
<line x1="3.30" y1="409.70" x2="207.70" y2="409.70" stroke="#666" stroke-width="1.3" stroke-linecap="butt" shape-rendering="crispEdges"/>
<text x="54.60" y="421.00" font-size="12" text-anchor="middle" fill="#000">Normal</text>
<text x="160.20" y="420.60" font-size="12" text-anchor="middle" fill="#000">Tumor</text>
<rect x="3.30" y="425.20" width="204.30" height="102.80" fill="#f3f3f3"/>
<path d="M22.15 433.76Q25.44 431.57 30.91 430.11Q36.39 428.65 42.59 428.14Q48.80 427.63 54.64 427.92Q60.47 428.21 65.58 429.53Q70.69 430.84 75.80 433.76Q80.91 436.68 85.29 441.06Q89.67 445.44 92.59 449.82Q95.51 454.20 96.97 458.58Q98.43 462.96 98.58 468.07Q98.72 473.18 98.21 479.74Q97.70 486.31 96.24 492.15Q94.78 497.99 92.23 503.10Q89.67 508.21 85.29 512.59Q80.91 516.97 75.07 520.04Q69.23 523.10 62.66 524.56Q56.09 526.02 50.26 526.02Q44.42 526.02 39.31 524.56Q34.20 523.10 29.82 520.18Q25.44 517.26 21.79 512.74Q18.14 508.21 15.22 501.64Q12.30 495.07 10.47 487.77Q8.65 480.47 7.92 474.64Q7.19 468.80 9.01 463.69Q10.84 458.58 12.30 454.20Q13.76 449.82 15.22 446.17Q16.68 442.52 17.77 439.23Q18.87 435.95 22.15 433.76Z" fill="#e6dadd"/>
<rect x="3" y="425" width="100" height="103" filter="url(#nLav)" opacity="0.35" clip-path="url(#cFN)"/>
<rect x="3" y="425" width="100" height="103" filter="url(#nBrown)" opacity="0.45" clip-path="url(#cFN)"/>
<rect x="3" y="425" width="100" height="103" filter="url(#nWhite)" opacity="0.5" clip-path="url(#cFN)"/>
<g clip-path="url(#cFN)">
<path d="M75.07 435.22Q78.72 445.44 77.99 450.55Q77.26 455.66 76.02 461.50Q74.78 467.34 73.83 472.45Q72.88 477.55 73.25 482.66L73.61 487.77" stroke="#b48a78" stroke-width="2.0" fill="none" opacity="0.75" stroke-linecap="round"/>
<path d="M86.02 464.42Q88.94 473.18 90.04 478.28Q91.13 483.39 91.72 487.04Q92.30 490.69 91.35 495.80L90.40 500.91" stroke="#b08068" stroke-width="2.6" fill="none" opacity="0.8" stroke-linecap="round"/>
<path d="M53.18 438.87Q54.93 446.90 55.15 451.28Q55.36 455.66 54.27 460.77L53.18 465.88" stroke="#c09888" stroke-width="1.4" fill="none" opacity="0.6" stroke-linecap="round"/>
<path d="M63.39 445.44Q66.31 457.12 67.04 462.96Q67.77 468.80 68.50 474.64Q69.23 480.47 68.50 486.31L67.77 492.15" stroke="#c4a494" stroke-width="1.4" fill="none" opacity="0.55" stroke-linecap="round"/>
<path d="M42.96 442.52Q45.88 454.20 47.34 458.58L48.80 462.96" stroke="#c4a090" stroke-width="1.2" fill="none" opacity="0.5" stroke-linecap="round"/>
<path d="M48.80 506.75Q51.72 515.51 52.45 519.89L53.18 524.27" stroke="#b89080" stroke-width="1.4" fill="none" opacity="0.6" stroke-linecap="round"/>
<path d="M66.31 497.99Q70.69 506.75 72.15 511.13L73.61 515.51" stroke="#c0a090" stroke-width="1.2" fill="none" opacity="0.5" stroke-linecap="round"/>
<path d="M78.72 441.06Q80.62 451.28 80.18 457.12Q79.74 462.96 79.23 468.07L78.72 473.18" stroke="#fbf8f8" stroke-width="2.0" fill="none" stroke-linecap="round"/>
<path d="M53.18 506.75Q52.01 516.97 51.28 521.35L50.55 525.73" stroke="#fbf8f8" stroke-width="1.8" fill="none" stroke-linecap="round"/>
<path d="M83.83 454.20L86.75 462.96" stroke="#fbf8f8" stroke-width="1.2" fill="none" stroke-linecap="round"/>
<path d="M41.50 489.23L44.42 497.99" stroke="#fbf8f8" stroke-width="1.2" fill="none" stroke-linecap="round"/>
<path d="M60.47 430.84L66.31 433.76" stroke="#fbf8f8" stroke-width="1.2" fill="none" stroke-linecap="round"/>
</g>
<path d="M22.15 433.76Q25.44 431.57 30.91 430.33Q36.39 429.09 38.21 434.34Q40.04 439.60 39.16 446.90Q38.28 454.20 34.93 463.69Q31.57 473.18 32.88 479.74Q34.20 486.31 35.29 496.53Q36.39 506.75 35.66 514.64Q34.93 522.52 30.18 519.89Q25.44 517.26 21.79 512.74Q18.14 508.21 15.22 501.64Q12.30 495.07 10.47 487.77Q8.65 480.47 7.92 474.64Q7.19 468.80 9.01 463.69Q10.84 458.58 12.30 454.20Q13.76 449.82 15.22 446.17Q16.68 442.52 17.77 439.23Q18.87 435.95 22.15 433.76Z" fill="#b6a9c4"/>
<rect x="3" y="425" width="40" height="103" filter="url(#nLav)" opacity="0.45" clip-path="url(#cFNlav)"/>
<rect x="3" y="425" width="40" height="103" filter="url(#nWhite)" opacity="0.3" clip-path="url(#cFNlav)"/>
<rect x="3" y="425" width="40" height="103" filter="url(#nBrown)" opacity="0.3" clip-path="url(#cFNlav)"/>
<path d="M36.39 429.38Q39.74 439.60 38.87 446.90Q37.99 454.20 34.78 463.69Q31.57 473.18 32.74 479.74Q33.91 486.31 35.00 496.53Q36.09 506.75 35.51 514.42L34.93 522.08" stroke="#8e7fae" stroke-width="1.6" fill="none" opacity="0.65"/>
<path d="M34.20 433.76Q36.39 442.52 35.29 448.36Q34.20 454.20 31.64 463.69Q29.09 473.18 30.18 479.74Q31.28 486.31 32.37 496.53L33.47 506.75" stroke="#9f90b8" stroke-width="2.5" fill="none" opacity="0.35"/>
<line x1="85.10" y1="525.00" x2="102.80" y2="525.00" stroke="#9a9a9a" stroke-width="1.3" stroke-linecap="butt" shape-rendering="crispEdges"/>
<circle cx="156.00" cy="476.40" r="48.6" fill="#bea6a3"/>
<rect x="107" y="427" width="98" height="99" filter="url(#nLav)" opacity="0.6" clip-path="url(#cFT)"/>
<rect x="107" y="427" width="98" height="99" filter="url(#nBrown)" opacity="0.45" clip-path="url(#cFT)"/>
<rect x="107" y="427" width="98" height="99" filter="url(#nWhite)" opacity="0.35" clip-path="url(#cFT)"/>
<rect x="107" y="427" width="98" height="99" filter="url(#nDark)" opacity="0.25" clip-path="url(#cFT)"/>
<circle cx="156.00" cy="476.40" r="48.6" fill="url(#rimT)"/>
<line x1="188.10" y1="524.40" x2="204.90" y2="524.40" stroke="#9a9a9a" stroke-width="1.3" stroke-linecap="butt" shape-rendering="crispEdges"/>
<text x="4.30" y="565.50" font-size="14.5" text-anchor="start" fill="#000">H</text>
<text x="109.20" y="590.40" font-size="12" text-anchor="middle" fill="#000">LASP1</text>
<line x1="2.80" y1="595.10" x2="207.60" y2="595.10" stroke="#666" stroke-width="1.3" stroke-linecap="butt" shape-rendering="crispEdges"/>
<text x="54.60" y="606.00" font-size="12" text-anchor="middle" fill="#000">Tumor</text>
<text x="155.60" y="605.60" font-size="12" text-anchor="middle" fill="#000">Metastasis</text>
<rect x="2.80" y="609.60" width="205.00" height="102.20" fill="#f3f3f3"/>
<path d="M26.82 617.67Q32.78 613.95 40.22 612.09Q47.67 610.23 55.11 610.23Q62.56 610.23 68.52 611.72Q74.47 613.21 80.43 617.30Q86.38 621.39 90.85 626.60Q95.32 631.81 97.92 638.51Q100.53 645.20 101.05 651.90Q101.57 658.60 100.68 665.29Q99.78 671.99 97.55 677.94Q95.32 683.89 91.59 689.10Q87.87 694.31 82.66 698.77Q77.45 703.24 71.49 706.59Q65.54 709.93 58.84 711.05Q52.14 712.17 46.33 711.72Q40.52 711.27 39.78 708.45Q39.03 705.62 37.69 702.20Q36.35 698.77 35.01 695.50Q33.67 692.23 33.23 688.80Q32.78 685.38 29.21 686.94Q25.63 688.51 21.02 689.40Q16.40 690.29 13.80 686.35Q11.19 682.40 9.33 677.20Q7.47 671.99 6.72 664.55Q5.98 657.11 7.09 649.67Q8.21 642.23 10.82 636.27Q13.42 630.32 17.15 625.86Q20.87 621.39 26.82 617.67Z" fill="#ab8474"/>
<g clip-path="url(#cHT)">
<path d="M19.38 626.60Q25.33 622.88 32.78 619.53Q40.22 616.18 46.55 614.70Q52.88 613.21 53.63 615.07Q54.37 616.93 51.02 619.90Q47.67 622.88 43.20 627.35Q38.74 631.81 33.52 635.53Q28.31 639.25 23.10 641.48Q17.89 643.71 13.42 645.35Q8.96 646.99 8.21 643.86Q7.47 640.74 10.44 635.53Q13.42 630.32 19.38 626.60Z" fill="#c2aaab" opacity="0.7"/>
<path d="M40.97 648.92Q44.69 645.20 49.16 643.34Q53.63 641.48 56.60 642.60Q59.58 643.71 61.07 648.18Q62.56 652.64 64.79 655.25Q67.03 657.85 64.79 661.20Q62.56 664.55 58.84 667.15Q55.11 669.76 49.90 671.62Q44.69 673.48 40.22 673.48Q35.76 673.48 35.01 669.01Q34.27 664.55 35.76 658.60Q37.25 652.64 40.97 648.92Z" fill="#c2aaab" opacity="0.7"/>
<path d="M78.19 635.53Q83.41 622.88 87.87 626.60Q92.34 630.32 95.32 637.76Q98.29 645.20 99.04 648.92Q99.78 652.64 93.08 654.88Q86.38 657.11 80.43 656.36Q74.47 655.62 73.73 651.90Q72.98 648.18 78.19 635.53Z" fill="#c2aaab" opacity="0.7"/>
<path d="M15.66 671.99Q22.36 671.99 23.85 674.96Q25.33 677.94 24.59 681.66Q23.85 685.38 20.87 688.36Q17.89 691.33 14.17 688.36Q10.44 685.38 9.33 681.66Q8.21 677.94 8.58 674.96Q8.96 671.99 15.66 671.99Z" fill="#c2aaab" opacity="0.7"/>
</g>
<rect x="3" y="611" width="102" height="102" filter="url(#nLav)" opacity="0.4" clip-path="url(#cHT)"/>
<rect x="3" y="611" width="102" height="102" filter="url(#nBrown)" opacity="0.45" clip-path="url(#cHT)"/>
<rect x="3" y="611" width="102" height="102" filter="url(#nWhite)" opacity="0.55" clip-path="url(#cHT)"/>
<rect x="3" y="611" width="102" height="102" filter="url(#nDark)" opacity="0.25" clip-path="url(#cHT)"/>
<g clip-path="url(#cHT)">
<path d="M5.23 650.41Q11.93 646.99 15.66 645.50Q19.38 644.01 23.85 642.00Q28.31 639.99 32.78 637.39Q37.25 634.79 40.97 631.07Q44.69 627.35 47.67 624.37Q50.65 621.39 52.88 618.79Q55.11 616.18 57.35 613.58L59.58 610.98" stroke="#f5f3f3" stroke-width="3.0" fill="none" stroke-linecap="round" stroke-linejoin="round"/>
<path d="M15.66 631.81Q23.85 630.32 28.31 629.43Q32.78 628.54 37.25 626.60Q41.71 624.67 45.44 622.29Q49.16 619.90 51.76 618.04L54.37 616.18" stroke="#f5f3f3" stroke-width="1.3" fill="none" stroke-linecap="round" stroke-linejoin="round"/>
<path d="M84.15 621.39Q81.17 630.32 79.68 634.41Q78.19 638.51 76.70 642.60Q75.22 646.69 73.50 649.67Q71.79 652.64 70.15 654.88Q68.52 657.11 67.03 658.00L65.54 658.89" stroke="#f5f3f3" stroke-width="2.6" fill="none" stroke-linecap="round" stroke-linejoin="round"/>
<path d="M34.57 673.48Q35.01 664.55 36.13 659.93Q37.25 655.32 39.63 651.60Q42.01 647.88 45.58 645.20Q49.16 642.52 52.88 641.63Q56.60 640.74 58.24 642.97Q59.88 645.20 61.22 648.92Q62.56 652.64 64.94 655.02Q67.32 657.40 70.15 656.66L72.98 655.92" stroke="#f5f3f3" stroke-width="1.6" fill="none" stroke-linecap="round" stroke-linejoin="round"/>
<path d="M25.33 673.48Q33.52 674.37 37.77 674.67Q42.01 674.96 46.48 674.59Q50.95 674.22 55.41 673.85Q59.88 673.48 62.86 672.73Q65.84 671.99 68.07 671.10Q70.30 670.20 72.54 668.86Q74.77 667.52 77.00 666.48Q79.24 665.44 82.96 664.99Q86.68 664.55 90.40 663.80Q94.13 663.06 98.44 662.17L102.76 661.27" stroke="#f5f3f3" stroke-width="2.8" fill="none" stroke-linecap="round" stroke-linejoin="round"/>
<path d="M5.98 670.50Q14.91 671.24 18.04 671.62Q21.17 671.99 23.40 673.18Q25.63 674.37 26.23 676.30Q26.82 678.24 26.08 680.47Q25.33 682.70 27.20 684.41Q29.06 686.12 31.29 686.50L33.52 686.87" stroke="#f5f3f3" stroke-width="2.4" fill="none" stroke-linecap="round" stroke-linejoin="round"/>
<path d="M28.31 705.02Q33.52 706.51 35.53 708.74L37.54 710.98" stroke="#f5f3f3" stroke-width="1.6" fill="none" stroke-linecap="round" stroke-linejoin="round"/>
<path d="M77.45 666.04Q86.38 670.50 90.85 671.99Q95.32 673.48 98.67 673.48L102.02 673.48" stroke="#f5f3f3" stroke-width="2.2" fill="none" stroke-linecap="round" stroke-linejoin="round"/>
<path d="M86.38 657.11Q92.34 655.62 96.81 655.62L101.27 655.62" stroke="#f5f3f3" stroke-width="1.6" fill="none" stroke-linecap="round" stroke-linejoin="round"/>
</g>
<line x1="85.50" y1="709.10" x2="102.70" y2="709.10" stroke="#9a9a9a" stroke-width="1.3" stroke-linecap="butt" shape-rendering="crispEdges"/>
<path d="M128.82 616.56Q134.78 613.21 142.22 611.94Q149.67 610.68 157.11 610.83Q164.56 610.98 170.52 612.46Q176.47 613.95 182.43 617.67Q188.38 621.39 192.85 626.60Q197.32 631.81 199.92 638.51Q202.53 645.20 203.05 651.90Q203.57 658.60 202.68 665.29Q201.78 671.99 199.55 677.94Q197.32 683.89 193.59 689.10Q189.87 694.31 184.66 698.77Q179.45 703.24 173.49 706.59Q167.54 709.93 160.84 711.05Q154.14 712.17 147.44 711.42Q140.74 710.68 135.52 708.45Q130.31 706.21 125.10 701.75Q119.89 697.29 116.17 691.33Q112.44 685.38 110.58 678.68Q108.72 671.99 108.35 664.55Q107.98 657.11 109.09 649.67Q110.21 642.23 112.82 635.53Q115.42 628.83 119.15 624.37Q122.87 619.90 128.82 616.56Z" fill="#bf8f74"/>
<g clip-path="url(#cHM)">
<path d="M131.06 680.17Q134.78 682.40 140.74 686.87Q146.69 691.33 151.90 694.31Q157.11 697.29 163.07 699.15Q169.03 701.01 167.54 705.84Q166.05 710.68 157.86 711.42Q149.67 712.17 142.22 708.45Q134.78 704.73 130.31 699.52Q125.85 694.31 126.59 686.12Q127.33 677.94 131.06 680.17Z" fill="#8f7580" opacity="0.75"/>
<path d="M109.09 649.67Q110.21 642.23 112.82 635.53Q115.42 628.83 119.15 624.37Q122.87 619.90 128.82 616.56Q134.78 613.21 139.25 612.46Q143.71 611.72 139.25 615.81Q134.78 619.90 130.31 625.11Q125.85 630.32 122.87 637.02Q119.89 643.71 118.40 651.15Q116.91 658.60 117.66 666.04Q118.40 673.48 120.63 679.43Q122.87 685.38 118.40 683.89Q113.93 682.40 111.70 677.20Q109.47 671.99 108.72 664.55Q107.98 657.11 109.09 649.67Z" fill="#9d7f86" opacity="0.6"/>
</g>
<rect x="105" y="611" width="102" height="102" filter="url(#nLav)" opacity="0.25" clip-path="url(#cHM)"/>
<rect x="105" y="611" width="102" height="102" filter="url(#nBrown)" opacity="0.4" clip-path="url(#cHM)"/>
<rect x="105" y="611" width="102" height="102" filter="url(#nWhite)" opacity="0.7" clip-path="url(#cHM)"/>
<rect x="105" y="611" width="102" height="102" filter="url(#nDark)" opacity="0.25" clip-path="url(#cHM)"/>
<g clip-path="url(#cHM)">
<path d="M137.01 657.11Q135.52 664.55 134.41 668.27Q133.29 671.99 131.65 674.96Q130.01 677.94 128.82 679.58Q127.63 681.21 128.38 683.45Q129.12 685.68 131.35 688.51Q133.59 691.33 137.31 694.31Q141.03 697.29 145.50 698.92Q149.97 700.56 155.92 702.05L161.88 703.54" stroke="#f6f4f4" stroke-width="2.2" fill="none" stroke-linecap="round"/>
<path d="M144.01 660.38Q149.67 659.49 152.80 658.60Q155.92 657.70 158.90 655.17Q161.88 652.64 164.71 649.07Q167.54 645.50 169.92 642.75L172.30 639.99" stroke="#f6f4f4" stroke-width="1.6" fill="none" stroke-linecap="round"/>
<path d="M113.93 633.30Q119.89 622.88 125.10 619.31Q130.31 615.74 137.16 614.10L144.01 612.46" stroke="#f6f4f4" stroke-width="1.0" fill="none" stroke-linecap="round"/>
<path d="M148.18 682.40L149.67 686.12" stroke="#f6f4f4" stroke-width="1.6" fill="none" stroke-linecap="round"/>
<path d="M111.70 645.20Q110.96 657.11 111.70 663.80L112.44 670.50" stroke="#f6f4f4" stroke-width="1.0" fill="none" stroke-linecap="round"/>
<path d="M109.47 652.64Q110.21 640.74 112.82 635.53Q115.42 630.32 119.15 626.23L122.87 622.14" stroke="#f6f4f4" stroke-width="1.2" fill="none" stroke-linecap="round"/>
<path d="M115.42 664.55Q116.17 652.64 118.03 646.69Q119.89 640.74 123.61 635.53Q127.33 630.32 131.80 626.60L136.27 622.88" stroke="#f6f4f4" stroke-width="0.9" fill="none" stroke-linecap="round"/>
<path d="M113.93 677.94Q118.40 688.36 121.38 692.82L124.36 697.29" stroke="#f6f4f4" stroke-width="1.0" fill="none" stroke-linecap="round"/>
<path d="M169.32 686.57 L178.26 688.36 L173.79 697.29Z" fill="#f6f4f4"/>
<path d="M135.52 657.85 L138.06 657.85 L134.78 673.48 L132.55 673.48Z" fill="#f6f4f4"/>
</g>
<circle cx="109.50" cy="618.00" r="1.5" fill="#d8d8dc"/>
<circle cx="194.30" cy="632.50" r="2.0" fill="#707070"/>
<line x1="187.90" y1="709.80" x2="204.90" y2="709.80" stroke="#9a9a9a" stroke-width="1.3" stroke-linecap="butt" shape-rendering="crispEdges"/>
<text x="228.30" y="392.30" font-size="14.5" text-anchor="start" fill="#000">G</text>
<rect x="248.10" y="382.10" width="16.50" height="5.40" fill="#a6a6aa"/>
<text x="267.90" y="388.70" font-size="12" text-anchor="start" fill="#000">Strong</text>
<rect x="302.20" y="382.10" width="16.20" height="5.40" fill="#636363"/>
<text x="321.70" y="388.70" font-size="12" text-anchor="start" fill="#000">Moderate</text>
<rect x="370.70" y="382.10" width="16.50" height="5.40" fill="#000000"/>
<text x="390.70" y="388.70" font-size="12" text-anchor="start" fill="#000">Weak</text>
<text x="312.60" y="399.90" font-size="12" text-anchor="start" fill="#000"><tspan font-style="italic">p</tspan>&lt;0.0001</text>
<line x1="280.70" y1="409.20" x2="280.70" y2="526.00" stroke="#555" stroke-width="1" stroke-linecap="butt" shape-rendering="crispEdges"/>
<line x1="280.70" y1="526.00" x2="386.10" y2="526.00" stroke="#555" stroke-width="1" stroke-linecap="butt" shape-rendering="crispEdges"/>
<line x1="276.30" y1="526.00" x2="280.70" y2="526.00" stroke="#555" stroke-width="1" stroke-linecap="butt" shape-rendering="crispEdges"/>
<text x="275.50" y="530.00" font-size="11.7" text-anchor="end" fill="#000">0</text>
<line x1="276.30" y1="502.64" x2="280.70" y2="502.64" stroke="#555" stroke-width="1" stroke-linecap="butt" shape-rendering="crispEdges"/>
<text x="275.50" y="506.64" font-size="11.7" text-anchor="end" fill="#000">20</text>
<line x1="276.30" y1="479.28" x2="280.70" y2="479.28" stroke="#555" stroke-width="1" stroke-linecap="butt" shape-rendering="crispEdges"/>
<text x="275.50" y="483.28" font-size="11.7" text-anchor="end" fill="#000">40</text>
<line x1="276.30" y1="455.92" x2="280.70" y2="455.92" stroke="#555" stroke-width="1" stroke-linecap="butt" shape-rendering="crispEdges"/>
<text x="275.50" y="459.92" font-size="11.7" text-anchor="end" fill="#000">60</text>
<line x1="276.30" y1="432.56" x2="280.70" y2="432.56" stroke="#555" stroke-width="1" stroke-linecap="butt" shape-rendering="crispEdges"/>
<text x="275.50" y="436.56" font-size="11.7" text-anchor="end" fill="#000">80</text>
<line x1="276.30" y1="409.20" x2="280.70" y2="409.20" stroke="#555" stroke-width="1" stroke-linecap="butt" shape-rendering="crispEdges"/>
<text x="275.50" y="413.20" font-size="11.7" text-anchor="end" fill="#000">100</text>
<text x="255.80" y="464.30" font-size="12.2" text-anchor="middle" fill="#000" transform="rotate(-90 255.8 464.3)">Percentage of subjects (%)</text>
<rect x="296.00" y="429.10" width="29.90" height="96.90" fill="#000000"/>
<rect x="296.00" y="414.80" width="29.90" height="14.30" fill="#636363"/>
<rect x="296.00" y="411.60" width="29.90" height="3.20" fill="#a6a6aa"/>
<rect x="341.20" y="491.00" width="29.90" height="35.00" fill="#000000"/>
<rect x="341.20" y="470.10" width="29.90" height="20.90" fill="#636363"/>
<rect x="341.20" y="411.90" width="29.90" height="58.20" fill="#a6a6aa"/>
<line x1="310.90" y1="526.00" x2="310.90" y2="529.60" stroke="#555" stroke-width="1" stroke-linecap="butt" shape-rendering="crispEdges"/>
<line x1="356.20" y1="526.00" x2="356.20" y2="529.60" stroke="#555" stroke-width="1" stroke-linecap="butt" shape-rendering="crispEdges"/>
<text x="310.80" y="411.10" font-size="12" text-anchor="middle" fill="#000">n=3</text>
<text x="310.80" y="424.80" font-size="12" text-anchor="middle" fill="#2a2a2a">n=10</text>
<text x="310.80" y="477.80" font-size="12" text-anchor="middle" fill="#fff">n=65</text>
<text x="356.00" y="444.00" font-size="12" text-anchor="middle" fill="#333">n=80</text>
<text x="356.00" y="483.60" font-size="12" text-anchor="middle" fill="#2a2a2a">n=30</text>
<text x="356.00" y="511.20" font-size="12" text-anchor="middle" fill="#fff">n=48</text>
<text x="310.80" y="539.30" font-size="12" text-anchor="middle" fill="#000">Normal</text>
<text x="310.80" y="553.30" font-size="12" text-anchor="middle" fill="#000">(n=78)</text>
<text x="356.00" y="539.30" font-size="12" text-anchor="middle" fill="#000">Tumor</text>
<text x="356.00" y="553.30" font-size="12" text-anchor="middle" fill="#000">(n=158)</text>
<text x="229.00" y="564.50" font-size="14.5" text-anchor="start" fill="#000">I</text>
<rect x="249.40" y="566.30" width="16.50" height="5.40" fill="#a6a6aa"/>
<text x="268.10" y="572.90" font-size="12" text-anchor="start" fill="#000">Strong</text>
<rect x="304.10" y="566.30" width="16.20" height="5.40" fill="#636363"/>
<text x="323.30" y="572.90" font-size="12" text-anchor="start" fill="#000">Moderate</text>
<rect x="373.70" y="566.30" width="16.50" height="5.40" fill="#000000"/>
<text x="392.30" y="572.90" font-size="12" text-anchor="start" fill="#000">Weak</text>
<text x="312.20" y="584.20" font-size="12" text-anchor="start" fill="#000"><tspan font-style="italic">p</tspan>=0.0043</text>
<line x1="281.00" y1="585.00" x2="281.00" y2="702.40" stroke="#555" stroke-width="1" stroke-linecap="butt" shape-rendering="crispEdges"/>
<line x1="281.00" y1="702.40" x2="374.50" y2="702.40" stroke="#555" stroke-width="1" stroke-linecap="butt" shape-rendering="crispEdges"/>
<line x1="276.60" y1="702.40" x2="281.00" y2="702.40" stroke="#555" stroke-width="1" stroke-linecap="butt" shape-rendering="crispEdges"/>
<text x="275.80" y="706.40" font-size="11.7" text-anchor="end" fill="#000">0</text>
<line x1="276.60" y1="678.92" x2="281.00" y2="678.92" stroke="#555" stroke-width="1" stroke-linecap="butt" shape-rendering="crispEdges"/>
<text x="275.80" y="682.92" font-size="11.7" text-anchor="end" fill="#000">20</text>
<line x1="276.60" y1="655.44" x2="281.00" y2="655.44" stroke="#555" stroke-width="1" stroke-linecap="butt" shape-rendering="crispEdges"/>
<text x="275.80" y="659.44" font-size="11.7" text-anchor="end" fill="#000">40</text>
<line x1="276.60" y1="631.96" x2="281.00" y2="631.96" stroke="#555" stroke-width="1" stroke-linecap="butt" shape-rendering="crispEdges"/>
<text x="275.80" y="635.96" font-size="11.7" text-anchor="end" fill="#000">60</text>
<line x1="276.60" y1="608.48" x2="281.00" y2="608.48" stroke="#555" stroke-width="1" stroke-linecap="butt" shape-rendering="crispEdges"/>
<text x="275.80" y="612.48" font-size="11.7" text-anchor="end" fill="#000">80</text>
<line x1="276.60" y1="585.00" x2="281.00" y2="585.00" stroke="#555" stroke-width="1" stroke-linecap="butt" shape-rendering="crispEdges"/>
<text x="275.80" y="589.00" font-size="11.7" text-anchor="end" fill="#000">100</text>
<text x="256.10" y="640.00" font-size="12.2" text-anchor="middle" fill="#000" transform="rotate(-90 256.1 640.0)">Percentage of subjects (%)</text>
<rect x="296.20" y="667.40" width="29.70" height="35.00" fill="#000000"/>
<rect x="296.20" y="646.70" width="29.70" height="20.70" fill="#636363"/>
<rect x="296.20" y="588.10" width="29.70" height="58.60" fill="#a6a6aa"/>
<rect x="341.10" y="696.60" width="30.00" height="5.80" fill="#000000"/>
<rect x="341.10" y="680.10" width="30.00" height="16.50" fill="#636363"/>
<rect x="341.10" y="588.10" width="30.00" height="92.00" fill="#a6a6aa"/>
<line x1="310.90" y1="702.40" x2="310.90" y2="706.00" stroke="#555" stroke-width="1" stroke-linecap="butt" shape-rendering="crispEdges"/>
<line x1="356.20" y1="702.40" x2="356.20" y2="706.00" stroke="#555" stroke-width="1" stroke-linecap="butt" shape-rendering="crispEdges"/>
<text x="310.80" y="620.40" font-size="12" text-anchor="middle" fill="#333">n=80</text>
<text x="310.80" y="659.80" font-size="12" text-anchor="middle" fill="#2a2a2a">n=30</text>
<text x="310.80" y="686.60" font-size="12" text-anchor="middle" fill="#fff">n=48</text>
<text x="356.10" y="639.30" font-size="12" text-anchor="middle" fill="#333">n=27</text>
<text x="356.10" y="691.90" font-size="12" text-anchor="middle" fill="#2a2a2a">n=5</text>
<text x="373.20" y="701.90" font-size="12" text-anchor="start" fill="#000">n=2</text>
<text x="310.80" y="715.50" font-size="12" text-anchor="middle" fill="#000">Tumor</text>
<text x="310.80" y="731.00" font-size="12" text-anchor="middle" fill="#000">(n=158)</text>
<text x="356.10" y="715.50" font-size="12" text-anchor="middle" fill="#000">Metastasis</text>
<text x="356.10" y="731.00" font-size="12" text-anchor="middle" fill="#000">(n=34)</text>
<text x="447.60" y="392.50" font-size="14.5" text-anchor="start" fill="#000">K</text>
<line x1="481.00" y1="394.90" x2="481.00" y2="540.80" stroke="#444" stroke-width="1" stroke-linecap="butt" shape-rendering="crispEdges"/>
<line x1="481.00" y1="540.80" x2="681.60" y2="540.80" stroke="#444" stroke-width="1" stroke-linecap="butt" shape-rendering="crispEdges"/>
<line x1="478.80" y1="402.20" x2="481.00" y2="402.20" stroke="#444" stroke-width="1" stroke-linecap="butt" shape-rendering="crispEdges"/>
<text x="477.20" y="406.20" font-size="11.7" text-anchor="end" fill="#000">1.00</text>
<line x1="478.80" y1="435.30" x2="481.00" y2="435.30" stroke="#444" stroke-width="1" stroke-linecap="butt" shape-rendering="crispEdges"/>
<text x="477.20" y="439.30" font-size="11.7" text-anchor="end" fill="#000">0.75</text>
<line x1="478.80" y1="468.40" x2="481.00" y2="468.40" stroke="#444" stroke-width="1" stroke-linecap="butt" shape-rendering="crispEdges"/>
<text x="477.20" y="472.40" font-size="11.7" text-anchor="end" fill="#000">0.50</text>
<line x1="478.80" y1="501.50" x2="481.00" y2="501.50" stroke="#444" stroke-width="1" stroke-linecap="butt" shape-rendering="crispEdges"/>
<text x="477.20" y="505.50" font-size="11.7" text-anchor="end" fill="#000">0.25</text>
<line x1="478.80" y1="534.60" x2="481.00" y2="534.60" stroke="#444" stroke-width="1" stroke-linecap="butt" shape-rendering="crispEdges"/>
<text x="477.20" y="538.60" font-size="11.7" text-anchor="end" fill="#000">0.00</text>
<line x1="491.00" y1="540.80" x2="491.00" y2="543.80" stroke="#444" stroke-width="1" stroke-linecap="butt" shape-rendering="crispEdges"/>
<text x="491.00" y="552.90" font-size="12" text-anchor="middle" fill="#000">0</text>
<line x1="551.40" y1="540.80" x2="551.40" y2="543.80" stroke="#444" stroke-width="1" stroke-linecap="butt" shape-rendering="crispEdges"/>
<text x="551.40" y="552.90" font-size="12" text-anchor="middle" fill="#000">1000</text>
<line x1="611.80" y1="540.80" x2="611.80" y2="543.80" stroke="#444" stroke-width="1" stroke-linecap="butt" shape-rendering="crispEdges"/>
<text x="611.80" y="552.90" font-size="12" text-anchor="middle" fill="#000">2000</text>
<line x1="672.20" y1="540.80" x2="672.20" y2="543.80" stroke="#444" stroke-width="1" stroke-linecap="butt" shape-rendering="crispEdges"/>
<text x="672.20" y="552.90" font-size="12" text-anchor="middle" fill="#000">3000</text>
<text x="583.60" y="565.30" font-size="12" text-anchor="middle" fill="#000">OS. time (days)</text>
<text x="451.70" y="472.00" font-size="12.2" text-anchor="middle" fill="#000" transform="rotate(-90 451.7 472.0)">Survival probability</text>
<path d="M490.86 402.01H494.02V407.62H499.62V413.40H500.67V419.53H501.37V425.66H502.78V429.17H505.40V431.80H507.15V434.43H508.38V437.93H514.16V441.43H517.14V447.57H518.89V451.07H519.94V455.45H525.20V458.08H529.93V462.46H531.68V465.09H533.43V467.19H535.71V469.47H537.46V472.10H539.57V475.60H546.57V478.23H564.97V480.86H576.01V484.36H596.50V483.80V486.80H650.60V496.50H681.10" stroke="#4a70bd" stroke-width="1.4" fill="none"/>
<path d="M490.86 402.01H492.26V404.64H493.67V407.62H497.52V414.27H498.40V421.28H499.27V426.54H500.67V429.17H502.42V432.67H504.18V436.18H506.63V439.68H508.38V442.31H510.13V447.57H511.18V451.95H512.41V456.33H513.29V460.71H514.16V465.09H515.56V468.59H517.32V470.35H522.92V474.73H531.68V476.48H536.94V479.98H539.92V481.74H541.67V484.36H543.42V486.12H545.17V488.74H546.92V490.50H550.08V494.00H554.98V496.63H556.21V498.38H564.97V500.13H569.35V503.64H570.75V509.77H581.61V512.75H595.63H596.50V513.20V515.90H599.50V517.30H618.20V519.90H681.60" stroke="#d9414b" stroke-width="1.4" fill="none"/>
<line x1="634.00" y1="484.80" x2="634.00" y2="488.80" stroke="#4a70bd" stroke-width="0.6" stroke-linecap="butt"/>
<line x1="637.00" y1="484.80" x2="637.00" y2="488.80" stroke="#4a70bd" stroke-width="0.6" stroke-linecap="butt"/>
<line x1="640.00" y1="484.80" x2="640.00" y2="488.80" stroke="#4a70bd" stroke-width="0.6" stroke-linecap="butt"/>
<line x1="643.00" y1="484.80" x2="643.00" y2="488.80" stroke="#4a70bd" stroke-width="0.6" stroke-linecap="butt"/>
<line x1="646.00" y1="484.80" x2="646.00" y2="488.80" stroke="#4a70bd" stroke-width="0.6" stroke-linecap="butt"/>
<line x1="671.00" y1="484.80" x2="671.00" y2="488.80" stroke="#4a70bd" stroke-width="0.6" stroke-linecap="butt"/>
<line x1="641.00" y1="517.90" x2="641.00" y2="521.90" stroke="#d9414b" stroke-width="0.6" stroke-linecap="butt"/>
<line x1="644.00" y1="517.90" x2="644.00" y2="521.90" stroke="#d9414b" stroke-width="0.6" stroke-linecap="butt"/>
<line x1="666.00" y1="517.90" x2="666.00" y2="521.90" stroke="#d9414b" stroke-width="0.6" stroke-linecap="butt"/>
<line x1="670.00" y1="517.90" x2="670.00" y2="521.90" stroke="#d9414b" stroke-width="0.6" stroke-linecap="butt"/>
<text x="511.60" y="408.50" font-size="12" text-anchor="start" fill="#000">LASP1 Expression:</text>
<rect x="610.20" y="402.70" width="7.60" height="4.00" fill="#d9414b"/>
<rect x="613.50" y="401.50" width="1.00" height="6.40" fill="#d9414b"/>
<text x="621.20" y="408.50" font-size="12" text-anchor="start" fill="#d9414b">High</text>
<rect x="648.80" y="402.70" width="7.60" height="4.00" fill="#4a70bd"/>
<rect x="652.10" y="401.50" width="1.00" height="6.40" fill="#4a70bd"/>
<text x="660.00" y="408.50" font-size="12" text-anchor="start" fill="#4a70bd">Low</text>
<text x="486.00" y="515.00" font-size="12" text-anchor="start" fill="#000">HR=1.71</text>
<text x="486.00" y="526.10" font-size="12" text-anchor="start" fill="#000"><tspan font-style="italic">p</tspan> = 0.016</text>
<text x="653.80" y="492.60" font-size="12" text-anchor="start" fill="#4a70bd">n=47</text>
<text x="654.10" y="515.00" font-size="12" text-anchor="start" fill="#d9414b">n=62</text>
<text x="447.60" y="564.50" font-size="14.5" text-anchor="start" fill="#000">L</text>
<line x1="482.80" y1="582.50" x2="482.80" y2="722.60" stroke="#a0a0a0" stroke-width="1.5" stroke-linecap="butt" shape-rendering="crispEdges"/>
<line x1="482.80" y1="722.60" x2="678.25" y2="722.60" stroke="#a0a0a0" stroke-width="1.5" stroke-linecap="butt" shape-rendering="crispEdges"/>
<line x1="482.80" y1="582.50" x2="484.30" y2="582.50" stroke="#8a8a8a" stroke-width="1.1" stroke-linecap="butt" shape-rendering="crispEdges"/>
<line x1="478.50" y1="722.60" x2="482.80" y2="722.60" stroke="#555" stroke-width="1" stroke-linecap="butt" shape-rendering="crispEdges"/>
<text x="477.20" y="726.20" font-size="10.5" text-anchor="end" fill="#222">0</text>
<line x1="478.50" y1="694.58" x2="482.80" y2="694.58" stroke="#555" stroke-width="1" stroke-linecap="butt" shape-rendering="crispEdges"/>
<text x="477.20" y="698.18" font-size="10.5" text-anchor="end" fill="#222">2</text>
<line x1="478.50" y1="666.56" x2="482.80" y2="666.56" stroke="#555" stroke-width="1" stroke-linecap="butt" shape-rendering="crispEdges"/>
<text x="477.20" y="670.16" font-size="10.5" text-anchor="end" fill="#222">4</text>
<line x1="478.50" y1="638.54" x2="482.80" y2="638.54" stroke="#555" stroke-width="1" stroke-linecap="butt" shape-rendering="crispEdges"/>
<text x="477.20" y="642.14" font-size="10.5" text-anchor="end" fill="#222">6</text>
<line x1="478.50" y1="610.52" x2="482.80" y2="610.52" stroke="#555" stroke-width="1" stroke-linecap="butt" shape-rendering="crispEdges"/>
<text x="477.20" y="614.12" font-size="10.5" text-anchor="end" fill="#222">8</text>
<line x1="478.50" y1="582.50" x2="482.80" y2="582.50" stroke="#555" stroke-width="1" stroke-linecap="butt" shape-rendering="crispEdges"/>
<text x="477.20" y="586.10" font-size="10.5" text-anchor="end" fill="#222">10</text>
<line x1="482.80" y1="722.60" x2="482.80" y2="726.20" stroke="#555" stroke-width="1" stroke-linecap="butt" shape-rendering="crispEdges"/>
<text x="482.80" y="737.80" font-size="10.5" text-anchor="middle" fill="#222">0</text>
<line x1="547.95" y1="722.60" x2="547.95" y2="726.20" stroke="#555" stroke-width="1" stroke-linecap="butt" shape-rendering="crispEdges"/>
<text x="547.95" y="737.80" font-size="10.5" text-anchor="middle" fill="#222">5</text>
<line x1="613.10" y1="722.60" x2="613.10" y2="726.20" stroke="#555" stroke-width="1" stroke-linecap="butt" shape-rendering="crispEdges"/>
<text x="613.10" y="737.80" font-size="10.5" text-anchor="middle" fill="#222">10</text>
<line x1="678.25" y1="722.60" x2="678.25" y2="726.20" stroke="#555" stroke-width="1" stroke-linecap="butt" shape-rendering="crispEdges"/>
<text x="678.25" y="737.80" font-size="10.5" text-anchor="middle" fill="#222">15</text>
<text x="579.00" y="743.60" font-size="10.5" text-anchor="middle" fill="#222">IFIT3</text>
<text x="459.30" y="653.70" font-size="10.5" text-anchor="middle" fill="#222" transform="rotate(-90 459.3 653.7)">LASP1</text>
<circle cx="482.80" cy="610.52" r="1.75" fill="#000"/>
<circle cx="495.83" cy="610.52" r="1.75" fill="#000"/>
<circle cx="502.35" cy="610.52" r="1.75" fill="#000"/>
<circle cx="508.86" cy="610.52" r="1.75" fill="#000"/>
<circle cx="521.89" cy="610.52" r="1.75" fill="#000"/>
<circle cx="534.92" cy="610.52" r="1.75" fill="#000"/>
<circle cx="541.44" cy="610.52" r="1.75" fill="#000"/>
<circle cx="560.98" cy="610.52" r="1.75" fill="#000"/>
<circle cx="600.07" cy="610.52" r="1.75" fill="#000"/>
<circle cx="639.16" cy="610.52" r="1.75" fill="#000"/>
<circle cx="482.80" cy="638.54" r="1.75" fill="#000"/>
<circle cx="495.83" cy="638.54" r="1.75" fill="#000"/>
<circle cx="502.35" cy="638.54" r="1.75" fill="#000"/>
<circle cx="508.86" cy="638.54" r="1.75" fill="#000"/>
<circle cx="521.89" cy="638.54" r="1.75" fill="#000"/>
<circle cx="534.92" cy="638.54" r="1.75" fill="#000"/>
<circle cx="560.98" cy="638.54" r="1.75" fill="#000"/>
<circle cx="600.07" cy="638.54" r="1.75" fill="#000"/>
<circle cx="495.83" cy="659.56" r="1.75" fill="#000"/>
<circle cx="502.35" cy="659.56" r="1.75" fill="#000"/>
<circle cx="508.86" cy="659.56" r="1.75" fill="#000"/>
<circle cx="534.92" cy="659.56" r="1.75" fill="#000"/>
<circle cx="587.04" cy="659.56" r="1.75" fill="#000"/>
<circle cx="600.07" cy="659.56" r="1.75" fill="#000"/>
<circle cx="482.80" cy="666.56" r="1.75" fill="#000"/>
<circle cx="495.83" cy="666.56" r="1.75" fill="#000"/>
<circle cx="502.35" cy="666.56" r="1.75" fill="#000"/>
<circle cx="534.92" cy="666.56" r="1.75" fill="#000"/>
<circle cx="482.80" cy="680.57" r="1.75" fill="#000"/>
<circle cx="495.83" cy="680.57" r="1.75" fill="#000"/>
<circle cx="502.35" cy="680.57" r="1.75" fill="#000"/>
<circle cx="482.80" cy="694.58" r="1.75" fill="#000"/>
<circle cx="495.83" cy="694.58" r="1.75" fill="#000"/>
<circle cx="502.35" cy="694.58" r="1.75" fill="#000"/>
<circle cx="521.89" cy="694.58" r="1.75" fill="#000"/>
<circle cx="534.92" cy="694.58" r="1.75" fill="#000"/>
<circle cx="587.04" cy="694.58" r="1.75" fill="#000"/>
<circle cx="482.80" cy="701.59" r="1.75" fill="#000"/>
<circle cx="495.83" cy="701.59" r="1.75" fill="#000"/>
<circle cx="502.35" cy="701.59" r="1.75" fill="#000"/>
<circle cx="508.86" cy="701.59" r="1.75" fill="#000"/>
<circle cx="534.92" cy="701.59" r="1.75" fill="#000"/>
<circle cx="560.98" cy="701.59" r="1.75" fill="#000"/>
<circle cx="482.80" cy="708.59" r="1.75" fill="#000"/>
<circle cx="495.83" cy="708.59" r="1.75" fill="#000"/>
<circle cx="502.35" cy="708.59" r="1.75" fill="#000"/>
<circle cx="534.92" cy="708.59" r="1.75" fill="#000"/>
<circle cx="482.80" cy="715.60" r="1.75" fill="#000"/>
<circle cx="495.83" cy="715.60" r="1.75" fill="#000"/>
<circle cx="482.80" cy="722.60" r="1.75" fill="#000"/>
<line x1="482.80" y1="669.80" x2="639.20" y2="620.80" stroke="#111" stroke-width="1.3" stroke-linecap="butt"/>
<text x="603.10" y="697.20" font-size="11.5" text-anchor="start" fill="#222">r = 0.2570</text>
<text x="602.00" y="712.90" font-size="11.5" text-anchor="start" fill="#222"><tspan font-style="italic">p</tspan> = 0.0065</text>
<text x="3.80" y="750.80" font-size="14.5" text-anchor="start" fill="#000">M</text>
<line x1="24.10" y1="779.90" x2="285.10" y2="779.90" stroke="#333" stroke-width="1.4" stroke-linecap="butt" shape-rendering="crispEdges"/>
<line x1="24.10" y1="794.90" x2="285.10" y2="794.90" stroke="#333" stroke-width="1.4" stroke-linecap="butt" shape-rendering="crispEdges"/>
<line x1="24.10" y1="879.00" x2="285.10" y2="879.00" stroke="#333" stroke-width="1.4" stroke-linecap="butt" shape-rendering="crispEdges"/>
<text x="164.10" y="789.90" font-size="12" text-anchor="middle" fill="#000">No.total</text>
<text x="199.50" y="789.90" font-size="12" text-anchor="middle" fill="#000">N-</text>
<text x="227.40" y="789.90" font-size="12" text-anchor="middle" fill="#000">N+</text>
<text x="264.60" y="789.90" font-size="12" text-anchor="middle" fill="#000">N+(%)</text>
<text x="164.10" y="809.00" font-size="12" text-anchor="middle" fill="#000">15</text>
<text x="199.50" y="809.00" font-size="12" text-anchor="middle" fill="#000">9</text>
<text x="227.00" y="809.00" font-size="12" text-anchor="middle" fill="#000">6</text>
<text x="264.40" y="809.00" font-size="12" text-anchor="middle" fill="#000">40.0%</text>
<text x="164.10" y="839.50" font-size="12" text-anchor="middle" fill="#000">60</text>
<text x="199.50" y="839.50" font-size="12" text-anchor="middle" fill="#000">22</text>
<text x="227.00" y="839.50" font-size="12" text-anchor="middle" fill="#000">38</text>
<text x="264.40" y="839.50" font-size="12" text-anchor="middle" fill="#000">63.3%</text>
<text x="164.10" y="871.00" font-size="12" text-anchor="middle" fill="#000">50</text>
<text x="199.50" y="871.00" font-size="12" text-anchor="middle" fill="#000">16</text>
<text x="227.00" y="871.00" font-size="12" text-anchor="middle" fill="#000">34</text>
<text x="264.40" y="871.00" font-size="12" text-anchor="middle" fill="#000">68.0%</text>
<text x="25.20" y="810.00" font-size="12" fill="#000">IFIT3 <tspan font-size="7" dy="-4.5">Low</tspan><tspan dy="4.5"> /LASP1 </tspan><tspan font-size="7" dy="-4.5">Low</tspan></text>
<text x="26.70" y="831.20" font-size="12" fill="#000">IFIT3 <tspan font-size="7" dy="-4.5">High</tspan><tspan dy="4.5"> /LASP1 </tspan><tspan font-size="7" dy="-4.5">Low</tspan></text>
<text x="74.40" y="840.00" font-size="7" text-anchor="middle" fill="#555">+</text>
<text x="26.70" y="852.00" font-size="12" fill="#000">IFIT3<tspan font-size="7" dy="-4.5">Low</tspan><tspan dy="4.5"> /LASP1 </tspan><tspan font-size="7" dy="-4.5">High</tspan></text>
<text x="25.20" y="873.40" font-size="12" fill="#000">IFIT3 <tspan font-size="7" dy="-4.5">High</tspan><tspan dy="4.5"> /LASP1 </tspan><tspan font-size="7" dy="-4.5">High</tspan></text>
<text x="333.50" y="750.50" font-size="14.5" text-anchor="start" fill="#000">N</text>
<line x1="370.40" y1="759.80" x2="370.40" y2="906.30" stroke="#444" stroke-width="1" stroke-linecap="butt" shape-rendering="crispEdges"/>
<line x1="370.40" y1="906.30" x2="571.60" y2="906.30" stroke="#444" stroke-width="1" stroke-linecap="butt" shape-rendering="crispEdges"/>
<line x1="367.00" y1="766.10" x2="370.40" y2="766.10" stroke="#444" stroke-width="1" stroke-linecap="butt" shape-rendering="crispEdges"/>
<text x="366.70" y="770.20" font-size="11.8" text-anchor="end" fill="#000">1.00</text>
<line x1="367.00" y1="799.50" x2="370.40" y2="799.50" stroke="#444" stroke-width="1" stroke-linecap="butt" shape-rendering="crispEdges"/>
<text x="366.70" y="803.60" font-size="11.8" text-anchor="end" fill="#000">0.75</text>
<line x1="367.00" y1="832.90" x2="370.40" y2="832.90" stroke="#444" stroke-width="1" stroke-linecap="butt" shape-rendering="crispEdges"/>
<text x="366.70" y="837.00" font-size="11.8" text-anchor="end" fill="#000">0.50</text>
<line x1="367.00" y1="866.30" x2="370.40" y2="866.30" stroke="#444" stroke-width="1" stroke-linecap="butt" shape-rendering="crispEdges"/>
<text x="366.70" y="870.40" font-size="11.8" text-anchor="end" fill="#000">0.25</text>
<line x1="367.00" y1="899.70" x2="370.40" y2="899.70" stroke="#444" stroke-width="1" stroke-linecap="butt" shape-rendering="crispEdges"/>
<text x="366.70" y="903.80" font-size="11.8" text-anchor="end" fill="#000">0.00</text>
<line x1="380.00" y1="906.30" x2="380.00" y2="909.60" stroke="#444" stroke-width="1" stroke-linecap="butt" shape-rendering="crispEdges"/>
<text x="380.00" y="918.30" font-size="12" text-anchor="middle" fill="#000">0</text>
<line x1="440.55" y1="906.30" x2="440.55" y2="909.60" stroke="#444" stroke-width="1" stroke-linecap="butt" shape-rendering="crispEdges"/>
<text x="440.55" y="918.30" font-size="12" text-anchor="middle" fill="#000">1000</text>
<line x1="501.10" y1="906.30" x2="501.10" y2="909.60" stroke="#444" stroke-width="1" stroke-linecap="butt" shape-rendering="crispEdges"/>
<text x="501.10" y="918.30" font-size="12" text-anchor="middle" fill="#000">2000</text>
<line x1="561.65" y1="906.30" x2="561.65" y2="909.60" stroke="#444" stroke-width="1" stroke-linecap="butt" shape-rendering="crispEdges"/>
<text x="561.65" y="918.30" font-size="12" text-anchor="middle" fill="#000">3000</text>
<text x="469.00" y="930.00" font-size="12" text-anchor="middle" fill="#000">OS. time (days)</text>
<text x="342.90" y="834.50" font-size="12.5" text-anchor="middle" fill="#000" transform="rotate(-90 342.9 834.5)">Survival probability</text>
<path d="M379.72 766.06H388.46V774.60H390.35V784.09H397.38V810.66H401.17V821.10H403.07V828.69H427.74H427.40V828.50V831.40H428.60V837.10H430.60V846.60H458.90V854.80H557.60" stroke="#3ec6bd" stroke-width="1.4" fill="none"/>
<path d="M379.72 766.06H380.48V767.01H381.24V767.96H382.38V768.91H383.52V770.24H385.04V772.70H386.56V775.55H388.46V778.97H389.97V782.19H390.73V785.04H393.20V788.83H394.53V791.68H395.48V794.53H397.94V796.43H402.12V798.32H404.02V800.60H405.92V803.07H406.86V807.81H408.19V811.61H408.95V814.46H411.61V816.35H414.46V817.30H417.30V818.25H419.20V819.58H420.72V822.05H422.62V824.89H424.89V827.74H426.79V829.07H428.31V830.59H434.00V832.11H436.28V833.44H439.70V834.76H441.98V836.66H443.87V838.18H445.77V839.32H449.20V838.98H453.95V839.92V841.25H454.89V842.77H457.17V844.67H458.69V848.46H459.64V849.79H463.44V851.31H466.28V852.64H471.98V854.16H485.26V857.00H486.78V858.90H490.01H485.60V853.70V858.90H488.80V861.00H507.60V863.00H539.90V869.30H571.60" stroke="#4066b3" stroke-width="1.4" fill="none"/>
<path d="M379.72 766.06H380.86V767.96H381.62V770.24H382.19V773.65H383.14V778.40H385.99V779.72H386.94V786.94H388.08V791.11H388.83V794.53H389.97V799.84H390.73V807.81H391.68V811.99H393.58V816.35H395.48V817.68H396.43V820.72H397.38V824.33H398.32V828.69H399.27V833.44H400.22V838.18H401.74V844.82H403.07V849.57H404.97V854.31H412.56H412.19V854.16V860.80H419.21V866.49H426.43V870.28H432.12V874.65H433.64V878.82H435.54V883.00H438.19V887.36H471.03V891.54H490.01H532.60V891.50" stroke="#d5323d" stroke-width="1.4" fill="none"/>
<line x1="530.00" y1="852.80" x2="530.00" y2="856.80" stroke="#3ec6bd" stroke-width="0.6" stroke-linecap="butt"/>
<line x1="536.00" y1="852.80" x2="536.00" y2="856.80" stroke="#3ec6bd" stroke-width="0.6" stroke-linecap="butt"/>
<line x1="541.00" y1="852.80" x2="541.00" y2="856.80" stroke="#3ec6bd" stroke-width="0.6" stroke-linecap="butt"/>
<line x1="546.00" y1="852.80" x2="546.00" y2="856.80" stroke="#3ec6bd" stroke-width="0.6" stroke-linecap="butt"/>
<line x1="524.00" y1="861.00" x2="524.00" y2="865.00" stroke="#4066b3" stroke-width="0.6" stroke-linecap="butt"/>
<line x1="528.00" y1="861.00" x2="528.00" y2="865.00" stroke="#4066b3" stroke-width="0.6" stroke-linecap="butt"/>
<line x1="531.00" y1="861.00" x2="531.00" y2="865.00" stroke="#4066b3" stroke-width="0.6" stroke-linecap="butt"/>
<line x1="534.00" y1="861.00" x2="534.00" y2="865.00" stroke="#4066b3" stroke-width="0.6" stroke-linecap="butt"/>
<line x1="560.00" y1="867.30" x2="560.00" y2="871.30" stroke="#4066b3" stroke-width="0.6" stroke-linecap="butt"/>
<line x1="566.00" y1="867.30" x2="566.00" y2="871.30" stroke="#4066b3" stroke-width="0.6" stroke-linecap="butt"/>
<line x1="523.00" y1="889.50" x2="523.00" y2="893.50" stroke="#d5323d" stroke-width="0.6" stroke-linecap="butt"/>
<line x1="527.00" y1="889.50" x2="527.00" y2="893.50" stroke="#d5323d" stroke-width="0.6" stroke-linecap="butt"/>
<text x="529.60" y="850.50" font-size="12" text-anchor="start" fill="#3ec6bd">n=15</text>
<text x="544.70" y="865.10" font-size="12" text-anchor="start" fill="#4066b3">n=62</text>
<text x="509.60" y="887.00" font-size="12" text-anchor="start" fill="#d5323d">n=32</text>
<text x="371.80" y="895.50" font-size="13" text-anchor="start" fill="#000"><tspan font-style="italic">p</tspan> = 0.00043</text>
<rect x="455.30" y="766.70" width="8.40" height="4.00" fill="#3ec6bd"/>
<rect x="459.00" y="765.50" width="1.00" height="6.40" fill="#3ec6bd"/>
<rect x="455.30" y="792.30" width="8.40" height="4.00" fill="#4066b3"/>
<rect x="459.00" y="791.10" width="1.00" height="6.40" fill="#4066b3"/>
<rect x="455.30" y="820.80" width="8.40" height="4.00" fill="#d5323d"/>
<rect x="459.00" y="819.60" width="1.00" height="6.40" fill="#d5323d"/>
<text x="467.40" y="773.40" font-size="12" fill="#3ec6bd">IFIT3 <tspan font-size="7" dy="-4.5">Low</tspan><tspan dy="4.5">/LASP1 </tspan><tspan font-size="7" dy="-4.5">Low</tspan></text>
<text x="472.50" y="792.00" font-size="12" fill="#4066b3">IFIT3 <tspan font-size="7" dy="-4.5">High</tspan><tspan dy="4.5">/LASP1 </tspan><tspan font-size="7" dy="-4.5">Low</tspan></text>
<text x="472.50" y="806.60" font-size="12" fill="#4066b3">IFIT3 <tspan font-size="7" dy="-4.5">Low</tspan><tspan dy="4.5">/LASP1 </tspan><tspan font-size="7" dy="-4.5">High</tspan></text>
<text x="467.80" y="827.70" font-size="12" fill="#d5323d">IFIT3 <tspan font-size="7" dy="-4.5">High</tspan><tspan dy="4.5">/LASP1 </tspan><tspan font-size="7" dy="-4.5">High</tspan></text>
<text x="468.20" y="803.30" font-size="17" text-anchor="middle" fill="#4066b3">{</text></svg></body></html>
